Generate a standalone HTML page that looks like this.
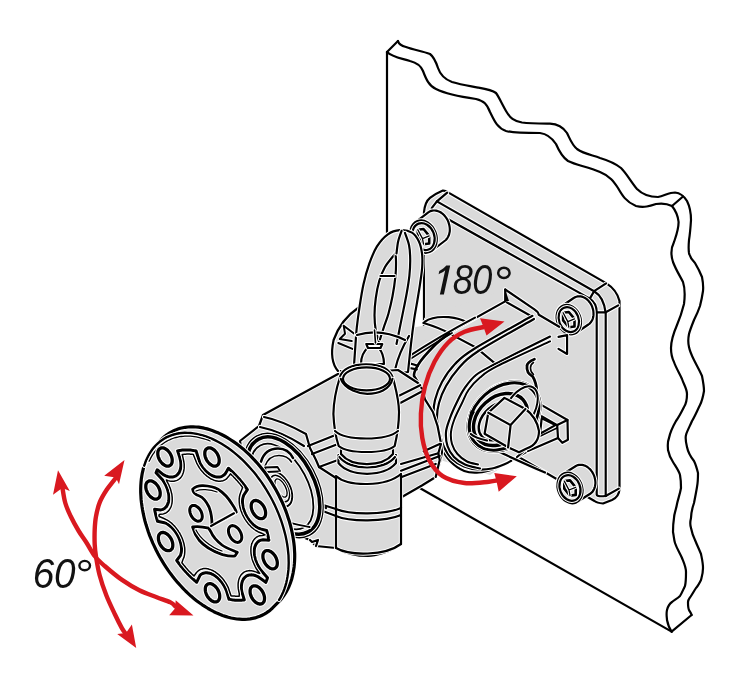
<!DOCTYPE html>
<html><head><meta charset="utf-8">
<style>
html,body{margin:0;padding:0;background:#fff;width:750px;height:697px;overflow:hidden}
svg{display:block}
.k{fill:none;stroke:#000;stroke-width:2.2;stroke-linejoin:round;stroke-linecap:round}
.g{fill:#dadada;stroke:#000;stroke-width:2.2;stroke-linejoin:round}
.h{fill:none;stroke:#fff;stroke-width:4.2;stroke-linejoin:round;stroke-linecap:round}
.gf{fill:#dadada;stroke:none}
.r{fill:none;stroke:#d91920;stroke-width:4.4;stroke-linecap:butt;stroke-linejoin:round}
.rf{fill:#d91920;stroke:none}
.t{font-family:"Liberation Sans",sans-serif;font-style:italic;fill:#111}
</style></head><body>
<svg width="750" height="697" viewBox="0 0 750 697">
<!-- WALL -->
<g class="k">
<path d="M387,52 L387,240"/>
<path d="M387,52 L398,41"/>
<path d="M387,52 C392,57 400,58 410,61 C418,63 421,66 423,71 C426,79 429,86 436,89 C446,94 462,97 476,99 C484,101 487,104 490,112 C494,120 497,128 506,131 C513,133 522,133 540,133 C548,134 552,138 556,144 C559,151 562,157 568,161 C576,165 588,167 600,172 C610,176 614,182 618,188 C622,195 626,202 636,206 C644,208 650,206 656,204 C662,203 668,204 672,206"/>
<path d="M398,41 C399,45 402,46 406,47 C414,50 422,51 430,54 C434,57 436,62 438,68 C440,74 444,79 452,82 C462,85 470,86 478,87.6 C486,89 492,90 496,93 C499,97 502,104 506,111 C510,118 514,121 522,122.5 C530,123.5 540,123.5 550,123.6 C558,124 563,127 567,133 C570,139 572,145 577,149 C584,154 592,155 600,158 C610,161 616,164 621,168 C627,174 631,182 637,189 C643,195 650,197 658,197 C664,196 669,192.5 675,192.5 C680,193 684,196 687,201 C690,207 691,213 691,220"/>
<path d="M672,206 L683,196.5"/>
<path d="M672,206 C676,211 678,216 678.6,222 C678.5,230 676,236 674,242 C671,248 671,256 673,262 C676,270 680,276 683,282 C685,288 685,296 684,304 C682,312 680,318 677,325 C674,332 671,340 671,348 C671,354 672,358 674,362 C676,368 680,374 682,379 C684,385 687,389 687,394 C687,400 686,404 684,407 C681,413 679,417 676,421 C672,428 670,433 669,438 C667,443 668,447 668,450 C669,455 671,459 673,462 C676,467 679,471 680,475 C681,480 681,484 681,488 C680,494 678,499 677,504 C676,510 674,514 674,518 C673,524 673,528 673,532 C674,537 674,540 675,543 C677,549 680,553 682,558 C684,563 686,567 686,572 C686,578 686,582 685,586 C683,590 682,593 680,596 C677,599 674,600 672,602 C669,604 668,606 667,610 C666,614 667,618 667,620 C668,625 669,628 671.6,631.6"/>
<path d="M691,220 C690.5,228 690,234 689,240 C688.5,246 688.5,250 689,253 C690,258 692,260 695,263 C698,268 700,272 702,277 C703,282 703.5,286 703,291 C702,298 701,302 700,306 C698,312 696,316 694,320 C692,325 690,330 689,334 C688,339 688,343 689,347 C690,352 692,356 694,360 C697,366 700,371 702,376 C703,381 704,386 704,391 C703,397 702,401 700,405 C697,411 695,416 692,421 C690,426 687,431 686,435 C685,439 686,443 687,447 C688,452 690,456 694,461 C696,465 697,469 698,473 C698,478 698,482 697,487 C696,493 695,498 694,503 C692,509 691,513 691,518 C690,522 690,525 691,528 C692,533 693,536 695,540 C697,545 699,549 701,554 C702,559 703,563 703,568 C703,573 702,576 701,580 C699,584 698,586 696,588 C694,591 693,593 691,596 C689,599 688,600 688,602 C688,606 688,608 689,610 C690,612 691,613 691.6,615"/>
<path d="M671.6,631.6 L691.6,615"/>
<path d="M418,487 L671.6,631.6"/>
</g>

<path class="gf" d="M430,197.9 Q435,194 442.9,190.6 Q445.5,190.5 447.2,191.9 L606.1,283.1 Q617,290 619.5,301.1 L619.5,489 Q619,497 612,500 L603,503.5 Q597,503 594.5,501 L490,440.3 L424,400 L424,212 Q425,202 430,197.9 Z"/>
<path style="stroke-width:4.20" class="h" d="M430,197.9 Q435,194 442.9,190.6 Q445.5,190.5 447.2,191.9 L606.1,283.1 Q617,290 619.5,301.1 L619.5,489 Q619,497 612,500 L603,503.5 Q597,503 594.5,501 L490,440.3 L424,400 L424,212 Q425,202 430,197.9 Z"/>
<path class="k" d="M430,197.9 Q435,194 442.9,190.6 Q445.5,190.5 447.2,191.9 L606.1,283.1 Q617,290 619.5,301.1 L619.5,489 Q619,497 612,500 L603,503.5 Q597,503 594.5,501 L490,440.3 L424,400 L424,212 Q425,202 430,197.9 Z"/>
<g class="h">
<path d="M436.9,201.4 L594.1,291.2 Q604,297 605.7,313.2 L605.7,496"/>
<path d="M431.7,210 L589.8,298.6 Q596.7,303 596.7,312.3 L596.7,494.5 Q597,497 605.5,496"/>
<path d="M447.2,192.7 L436.9,201.4 L431.7,208.2"/>
<path d="M589.8,298.6 L594.1,291.2 L606.1,283.4"/>
<path d="M596.7,312.3 L605.7,312.3 L618.2,305.4"/>
<path d="M605.7,496 L618.8,488.6"/>
</g>
<g class="k">
<path d="M436.9,201.4 L594.1,291.2 Q604,297 605.7,313.2 L605.7,496"/>
<path d="M431.7,210 L589.8,298.6 Q596.7,303 596.7,312.3 L596.7,494.5 Q597,497 605.5,496"/>
<path d="M447.2,192.7 L436.9,201.4 L431.7,208.2"/>
<path d="M589.8,298.6 L594.1,291.2 L606.1,283.4"/>
<path d="M596.7,312.3 L605.7,312.3 L618.2,305.4"/>
<path d="M605.7,496 L618.8,488.6"/>
</g>
<path class="g" style="stroke:none" d="M398,330 L470,318 L470,420 L440,450 L420,470 L400,480 Z"/>
<path class="gf" d="M410.2,233.5 L410.3,232.1 L410.4,230.7 L410.7,229.4 L411.1,228.2 L411.6,227.0 L412.1,225.9 L412.8,224.9 L413.5,223.9 L414.4,223.1 L415.3,222.4 L428.3,212.4 L429.2,211.8 L430.2,211.3 L431.3,210.9 L432.4,210.6 L433.5,210.5 L434.7,210.5 L435.8,210.6 L437.0,210.9 L438.2,211.2 L439.4,211.7 L440.5,212.3 L441.6,213.0 L442.7,213.9 L443.7,214.8 L444.6,215.8 L445.5,216.9 L446.4,218.1 L447.1,219.3 L447.8,220.6 L448.4,222.0 L448.8,223.4 L449.2,224.8 L449.5,226.2 L449.7,227.6 L449.8,229.0 L449.8,230.4 L449.7,231.8 L449.4,233.1 L449.1,234.4 L448.7,235.6 L448.1,236.8 L447.5,237.8 L446.8,238.8 L446.1,239.7 L445.2,240.5 L432.2,250.5 L431.3,251.1 L430.3,251.7 L429.3,252.1 L428.2,252.5 L427.1,252.7 L425.9,252.7 L424.7,252.7 L423.6,252.5 L422.4,252.2 L421.2,251.7 L420.1,251.2 L419.0,250.5 L417.9,249.8 L416.8,248.9 L415.8,247.9 L414.9,246.9 L414.0,245.7 L413.3,244.5 L412.5,243.2 L411.9,241.9 L411.4,240.5 L410.9,239.1 L410.6,237.7 L410.4,236.3 L410.2,234.9Z"/>
<path style="stroke-width:4.20" class="h" d="M410.2,233.5 L410.3,232.1 L410.4,230.7 L410.7,229.4 L411.1,228.2 L411.6,227.0 L412.1,225.9 L412.8,224.9 L413.5,223.9 L414.4,223.1 L415.3,222.4 L428.3,212.4 L429.2,211.8 L430.2,211.3 L431.3,210.9 L432.4,210.6 L433.5,210.5 L434.7,210.5 L435.8,210.6 L437.0,210.9 L438.2,211.2 L439.4,211.7 L440.5,212.3 L441.6,213.0 L442.7,213.9 L443.7,214.8 L444.6,215.8 L445.5,216.9 L446.4,218.1 L447.1,219.3 L447.8,220.6 L448.4,222.0 L448.8,223.4 L449.2,224.8 L449.5,226.2 L449.7,227.6 L449.8,229.0 L449.8,230.4 L449.7,231.8 L449.4,233.1 L449.1,234.4 L448.7,235.6 L448.1,236.8 L447.5,237.8 L446.8,238.8 L446.1,239.7 L445.2,240.5 L432.2,250.5 L431.3,251.1 L430.3,251.7 L429.3,252.1 L428.2,252.5 L427.1,252.7 L425.9,252.7 L424.7,252.7 L423.6,252.5 L422.4,252.2 L421.2,251.7 L420.1,251.2 L419.0,250.5 L417.9,249.8 L416.8,248.9 L415.8,247.9 L414.9,246.9 L414.0,245.7 L413.3,244.5 L412.5,243.2 L411.9,241.9 L411.4,240.5 L410.9,239.1 L410.6,237.7 L410.4,236.3 L410.2,234.9Z"/>
<path class="k" d="M410.2,233.5 L410.3,232.1 L410.4,230.7 L410.7,229.4 L411.1,228.2 L411.6,227.0 L412.1,225.9 L412.8,224.9 L413.5,223.9 L414.4,223.1 L415.3,222.4 L428.3,212.4 L429.2,211.8 L430.2,211.3 L431.3,210.9 L432.4,210.6 L433.5,210.5 L434.7,210.5 L435.8,210.6 L437.0,210.9 L438.2,211.2 L439.4,211.7 L440.5,212.3 L441.6,213.0 L442.7,213.9 L443.7,214.8 L444.6,215.8 L445.5,216.9 L446.4,218.1 L447.1,219.3 L447.8,220.6 L448.4,222.0 L448.8,223.4 L449.2,224.8 L449.5,226.2 L449.7,227.6 L449.8,229.0 L449.8,230.4 L449.7,231.8 L449.4,233.1 L449.1,234.4 L448.7,235.6 L448.1,236.8 L447.5,237.8 L446.8,238.8 L446.1,239.7 L445.2,240.5 L432.2,250.5 L431.3,251.1 L430.3,251.7 L429.3,252.1 L428.2,252.5 L427.1,252.7 L425.9,252.7 L424.7,252.7 L423.6,252.5 L422.4,252.2 L421.2,251.7 L420.1,251.2 L419.0,250.5 L417.9,249.8 L416.8,248.9 L415.8,247.9 L414.9,246.9 L414.0,245.7 L413.3,244.5 L412.5,243.2 L411.9,241.9 L411.4,240.5 L410.9,239.1 L410.6,237.7 L410.4,236.3 L410.2,234.9Z"/>
<ellipse class="gf" cx="423.5" cy="236.6" rx="12.7" ry="16.6" transform="rotate(-21.3 423.5 236.6)" />
<ellipse style="stroke-width:4.20" class="h" cx="423.5" cy="236.6" rx="12.7" ry="16.6" transform="rotate(-21.3 423.5 236.6)" />
<ellipse class="k" cx="423.5" cy="236.6" rx="12.7" ry="16.6" transform="rotate(-21.3 423.5 236.6)" />
<ellipse class="h" cx="423.5" cy="236.6" rx="10.7" ry="13.9" transform="rotate(-21.3 423.5 236.6)" style="stroke-width:4.20"/>
<ellipse class="k" cx="423.5" cy="236.6" rx="10.7" ry="13.9" transform="rotate(-21.3 423.5 236.6)" style="stroke-width:2.2"/>
<path class="h" style="stroke-width:4.60" d="M429.2,243.5 L423.5,244.2 L417.8,237.3 L417.8,229.7 L423.5,229.0 L429.2,235.9Z"/>
<path class="k" style="stroke-width:2.6" d="M429.2,243.5 L423.5,244.2 L417.8,237.3 L417.8,229.7 L423.5,229.0 L429.2,235.9Z"/>
<path class="h" style="stroke-width:3.30" d="M417.8,229.7 L422.5,238.6 L423.5,244.2 M422.5,238.6 L429.2,235.9"/>
<path class="k" style="stroke-width:1.3" d="M417.8,229.7 L422.5,238.6 L423.5,244.2 M422.5,238.6 L429.2,235.9"/>
<path class="gf" d="M556.6,316.7 L556.6,315.4 L556.8,314.2 L557.1,313.0 L557.4,311.9 L557.8,310.8 L558.4,309.8 L559.0,308.8 L559.7,308.0 L560.4,307.2 L561.2,306.5 L573.7,298.0 L574.6,297.5 L575.5,297.0 L576.5,296.7 L577.5,296.4 L578.6,296.3 L579.6,296.3 L580.7,296.4 L581.8,296.6 L582.9,297.0 L583.9,297.4 L585.0,298.0 L586.0,298.6 L587.0,299.4 L587.9,300.3 L588.8,301.2 L589.6,302.2 L590.4,303.3 L591.1,304.4 L591.7,305.6 L592.2,306.9 L592.6,308.1 L593.0,309.4 L593.3,310.7 L593.4,312.0 L593.5,313.3 L593.5,314.6 L593.4,315.9 L593.2,317.1 L592.9,318.3 L592.5,319.4 L592.0,320.4 L591.4,321.4 L590.8,322.3 L590.1,323.1 L589.3,323.8 L588.4,324.5 L575.9,333.0 L575.0,333.5 L574.1,333.9 L573.1,334.2 L572.1,334.4 L571.0,334.4 L569.9,334.4 L568.9,334.2 L567.8,333.9 L566.7,333.5 L565.7,333.0 L564.6,332.4 L563.6,331.7 L562.7,330.9 L561.8,330.0 L560.9,329.0 L560.1,328.0 L559.4,326.9 L558.7,325.7 L558.2,324.5 L557.7,323.2 L557.3,321.9 L557.0,320.6 L556.7,319.3 L556.6,318.0Z"/>
<path style="stroke-width:4.20" class="h" d="M556.6,316.7 L556.6,315.4 L556.8,314.2 L557.1,313.0 L557.4,311.9 L557.8,310.8 L558.4,309.8 L559.0,308.8 L559.7,308.0 L560.4,307.2 L561.2,306.5 L573.7,298.0 L574.6,297.5 L575.5,297.0 L576.5,296.7 L577.5,296.4 L578.6,296.3 L579.6,296.3 L580.7,296.4 L581.8,296.6 L582.9,297.0 L583.9,297.4 L585.0,298.0 L586.0,298.6 L587.0,299.4 L587.9,300.3 L588.8,301.2 L589.6,302.2 L590.4,303.3 L591.1,304.4 L591.7,305.6 L592.2,306.9 L592.6,308.1 L593.0,309.4 L593.3,310.7 L593.4,312.0 L593.5,313.3 L593.5,314.6 L593.4,315.9 L593.2,317.1 L592.9,318.3 L592.5,319.4 L592.0,320.4 L591.4,321.4 L590.8,322.3 L590.1,323.1 L589.3,323.8 L588.4,324.5 L575.9,333.0 L575.0,333.5 L574.1,333.9 L573.1,334.2 L572.1,334.4 L571.0,334.4 L569.9,334.4 L568.9,334.2 L567.8,333.9 L566.7,333.5 L565.7,333.0 L564.6,332.4 L563.6,331.7 L562.7,330.9 L561.8,330.0 L560.9,329.0 L560.1,328.0 L559.4,326.9 L558.7,325.7 L558.2,324.5 L557.7,323.2 L557.3,321.9 L557.0,320.6 L556.7,319.3 L556.6,318.0Z"/>
<path class="k" d="M556.6,316.7 L556.6,315.4 L556.8,314.2 L557.1,313.0 L557.4,311.9 L557.8,310.8 L558.4,309.8 L559.0,308.8 L559.7,308.0 L560.4,307.2 L561.2,306.5 L573.7,298.0 L574.6,297.5 L575.5,297.0 L576.5,296.7 L577.5,296.4 L578.6,296.3 L579.6,296.3 L580.7,296.4 L581.8,296.6 L582.9,297.0 L583.9,297.4 L585.0,298.0 L586.0,298.6 L587.0,299.4 L587.9,300.3 L588.8,301.2 L589.6,302.2 L590.4,303.3 L591.1,304.4 L591.7,305.6 L592.2,306.9 L592.6,308.1 L593.0,309.4 L593.3,310.7 L593.4,312.0 L593.5,313.3 L593.5,314.6 L593.4,315.9 L593.2,317.1 L592.9,318.3 L592.5,319.4 L592.0,320.4 L591.4,321.4 L590.8,322.3 L590.1,323.1 L589.3,323.8 L588.4,324.5 L575.9,333.0 L575.0,333.5 L574.1,333.9 L573.1,334.2 L572.1,334.4 L571.0,334.4 L569.9,334.4 L568.9,334.2 L567.8,333.9 L566.7,333.5 L565.7,333.0 L564.6,332.4 L563.6,331.7 L562.7,330.9 L561.8,330.0 L560.9,329.0 L560.1,328.0 L559.4,326.9 L558.7,325.7 L558.2,324.5 L557.7,323.2 L557.3,321.9 L557.0,320.6 L556.7,319.3 L556.6,318.0Z"/>
<ellipse class="gf" cx="568.8" cy="319.6" rx="11.7" ry="15.2" transform="rotate(-21.3 568.8 319.6)" />
<ellipse style="stroke-width:4.20" class="h" cx="568.8" cy="319.6" rx="11.7" ry="15.2" transform="rotate(-21.3 568.8 319.6)" />
<ellipse class="k" cx="568.8" cy="319.6" rx="11.7" ry="15.2" transform="rotate(-21.3 568.8 319.6)" />
<ellipse class="h" cx="568.8" cy="319.6" rx="9.8" ry="12.8" transform="rotate(-21.3 568.8 319.6)" style="stroke-width:4.20"/>
<ellipse class="k" cx="568.8" cy="319.6" rx="9.8" ry="12.8" transform="rotate(-21.3 568.8 319.6)" style="stroke-width:2.2"/>
<path class="h" style="stroke-width:4.60" d="M574.5,326.5 L568.8,327.2 L563.1,320.3 L563.1,312.7 L568.8,312.0 L574.5,318.9Z"/>
<path class="k" style="stroke-width:2.6" d="M574.5,326.5 L568.8,327.2 L563.1,320.3 L563.1,312.7 L568.8,312.0 L574.5,318.9Z"/>
<path class="h" style="stroke-width:3.30" d="M563.1,312.7 L567.8,321.6 L568.8,327.2 M567.8,321.6 L574.5,318.9"/>
<path class="k" style="stroke-width:1.3" d="M563.1,312.7 L567.8,321.6 L568.8,327.2 M567.8,321.6 L574.5,318.9"/>
<path class="gf" d="M557.4,485.0 L557.5,483.7 L557.7,482.4 L557.9,481.2 L558.3,480.0 L558.7,478.9 L559.3,477.9 L559.9,476.9 L560.6,476.0 L561.4,475.2 L562.2,474.5 L563.1,474.0 L575.9,466.0 L576.9,465.5 L577.9,465.1 L578.9,464.9 L580.0,464.8 L581.1,464.8 L582.2,464.9 L583.3,465.1 L584.4,465.5 L585.5,465.9 L586.6,466.5 L587.6,467.2 L588.6,468.0 L589.6,468.8 L590.5,469.8 L591.3,470.8 L592.1,471.9 L592.8,473.1 L593.5,474.4 L594.0,475.6 L594.5,476.9 L594.8,478.3 L595.1,479.6 L595.3,481.0 L595.4,482.3 L595.4,483.6 L595.2,484.9 L595.0,486.2 L594.7,487.4 L594.3,488.5 L593.8,489.6 L593.2,490.6 L592.6,491.6 L591.8,492.4 L591.0,493.1 L590.2,493.8 L577.4,501.8 L576.4,502.3 L575.4,502.7 L574.4,503.0 L573.4,503.2 L572.3,503.2 L571.2,503.2 L570.1,503.0 L569.0,502.7 L567.8,502.3 L566.8,501.8 L565.7,501.2 L564.7,500.4 L563.7,499.6 L562.7,498.7 L561.9,497.7 L561.1,496.6 L560.3,495.5 L559.6,494.3 L559.0,493.0 L558.5,491.7 L558.1,490.4 L557.8,489.1 L557.6,487.7 L557.5,486.4Z"/>
<path style="stroke-width:4.20" class="h" d="M557.4,485.0 L557.5,483.7 L557.7,482.4 L557.9,481.2 L558.3,480.0 L558.7,478.9 L559.3,477.9 L559.9,476.9 L560.6,476.0 L561.4,475.2 L562.2,474.5 L563.1,474.0 L575.9,466.0 L576.9,465.5 L577.9,465.1 L578.9,464.9 L580.0,464.8 L581.1,464.8 L582.2,464.9 L583.3,465.1 L584.4,465.5 L585.5,465.9 L586.6,466.5 L587.6,467.2 L588.6,468.0 L589.6,468.8 L590.5,469.8 L591.3,470.8 L592.1,471.9 L592.8,473.1 L593.5,474.4 L594.0,475.6 L594.5,476.9 L594.8,478.3 L595.1,479.6 L595.3,481.0 L595.4,482.3 L595.4,483.6 L595.2,484.9 L595.0,486.2 L594.7,487.4 L594.3,488.5 L593.8,489.6 L593.2,490.6 L592.6,491.6 L591.8,492.4 L591.0,493.1 L590.2,493.8 L577.4,501.8 L576.4,502.3 L575.4,502.7 L574.4,503.0 L573.4,503.2 L572.3,503.2 L571.2,503.2 L570.1,503.0 L569.0,502.7 L567.8,502.3 L566.8,501.8 L565.7,501.2 L564.7,500.4 L563.7,499.6 L562.7,498.7 L561.9,497.7 L561.1,496.6 L560.3,495.5 L559.6,494.3 L559.0,493.0 L558.5,491.7 L558.1,490.4 L557.8,489.1 L557.6,487.7 L557.5,486.4Z"/>
<path class="k" d="M557.4,485.0 L557.5,483.7 L557.7,482.4 L557.9,481.2 L558.3,480.0 L558.7,478.9 L559.3,477.9 L559.9,476.9 L560.6,476.0 L561.4,475.2 L562.2,474.5 L563.1,474.0 L575.9,466.0 L576.9,465.5 L577.9,465.1 L578.9,464.9 L580.0,464.8 L581.1,464.8 L582.2,464.9 L583.3,465.1 L584.4,465.5 L585.5,465.9 L586.6,466.5 L587.6,467.2 L588.6,468.0 L589.6,468.8 L590.5,469.8 L591.3,470.8 L592.1,471.9 L592.8,473.1 L593.5,474.4 L594.0,475.6 L594.5,476.9 L594.8,478.3 L595.1,479.6 L595.3,481.0 L595.4,482.3 L595.4,483.6 L595.2,484.9 L595.0,486.2 L594.7,487.4 L594.3,488.5 L593.8,489.6 L593.2,490.6 L592.6,491.6 L591.8,492.4 L591.0,493.1 L590.2,493.8 L577.4,501.8 L576.4,502.3 L575.4,502.7 L574.4,503.0 L573.4,503.2 L572.3,503.2 L571.2,503.2 L570.1,503.0 L569.0,502.7 L567.8,502.3 L566.8,501.8 L565.7,501.2 L564.7,500.4 L563.7,499.6 L562.7,498.7 L561.9,497.7 L561.1,496.6 L560.3,495.5 L559.6,494.3 L559.0,493.0 L558.5,491.7 L558.1,490.4 L557.8,489.1 L557.6,487.7 L557.5,486.4Z"/>
<ellipse class="gf" cx="570.0" cy="488.0" rx="12.0" ry="15.7" transform="rotate(-21.3 570.0 488.0)" />
<ellipse style="stroke-width:4.20" class="h" cx="570.0" cy="488.0" rx="12.0" ry="15.7" transform="rotate(-21.3 570.0 488.0)" />
<ellipse class="k" cx="570.0" cy="488.0" rx="12.0" ry="15.7" transform="rotate(-21.3 570.0 488.0)" />
<ellipse class="h" cx="570.0" cy="488.0" rx="10.1" ry="13.2" transform="rotate(-21.3 570.0 488.0)" style="stroke-width:4.20"/>
<ellipse class="k" cx="570.0" cy="488.0" rx="10.1" ry="13.2" transform="rotate(-21.3 570.0 488.0)" style="stroke-width:2.2"/>
<path class="h" style="stroke-width:4.60" d="M575.7,494.9 L570.0,495.6 L564.3,488.7 L564.3,481.1 L570.0,480.4 L575.7,487.3Z"/>
<path class="k" style="stroke-width:2.6" d="M575.7,494.9 L570.0,495.6 L564.3,488.7 L564.3,481.1 L570.0,480.4 L575.7,487.3Z"/>
<path class="h" style="stroke-width:3.30" d="M564.3,481.1 L569.0,490.0 L570.0,495.6 M569.0,490.0 L575.7,487.3"/>
<path class="k" style="stroke-width:1.3" d="M564.3,481.1 L569.0,490.0 L570.0,495.6 M569.0,490.0 L575.7,487.3"/>
<path class="g" d="M424,318 L506,289 L540,310 L568,337 L568,355 L545,440 L517,457 L490,475 L440,460 L430,420 Z" style="stroke:none"/>
<path class="g" d="M532.4,315.8 C522.7,321.3 486.9,341.0 474.0,349.0 C461.1,357.0 460.3,358.5 455.0,364.0 C449.7,369.5 445.3,376.0 442.0,382.0 C438.7,388.0 436.4,394.5 435.0,400.0 C433.6,405.5 433.4,409.7 433.6,415.0 C433.8,420.3 434.8,426.7 436.0,432.0 C437.2,437.3 438.7,442.2 441.0,447.0 C443.3,451.8 446.1,457.0 450.0,461.0 C453.9,465.0 459.5,469.1 464.3,471.0 C469.1,472.9 474.1,472.9 479.0,472.5 C483.9,472.1 489.3,470.4 493.7,468.9 C498.1,467.4 501.5,465.7 505.4,463.7 C509.3,461.7 510.5,460.8 517.1,457.1 C523.7,453.4 540.4,444.3 545.0,441.7 L560,430 L560,330 Z" style="stroke:none"/>
<g class="h">
<path d="M505.2,289.5 L505.2,300.7"/>
<path d="M505.2,289.5 L534.4,309.3 Q538.5,312 538.8,314.8 L559.2,326.8"/>
<path d="M506.9,302.4 L532.7,317"/>
<path d="M505.2,301.4 L450.8,331.8 L430,343.8"/>
<path d="M558.5,336.8 L567.1,335.1 L567.1,354 L558.5,348.9"/>
<path style="stroke-width:4.80" d="M534.4,359.2 C530,361 527,363 527,366 C526.5,370 528,374 532.7,376.4 C535,380 536.5,386 537,392 L537,400"/>
<path style="stroke-width:3.60" d="M533.5,362.5 C531,364 530.5,366 530.5,368 C530.5,371 531.5,373 533.5,374.5"/>
<path d="M424.6,321.8 C430,318 440,316.5 448.7,317.2 C455,317.8 462,319.5 467,322.4"/>
<path d="M423.4,323 C430,325 440,328 449.2,333.4 L476.4,347.8 L495.6,363.8"/>
</g>
<g class="k">
<path d="M505.2,289.5 L505.2,300.7"/>
<path d="M505.2,289.5 L534.4,309.3 Q538.5,312 538.8,314.8 L559.2,326.8"/>
<path d="M506.9,302.4 L532.7,317"/>
<path d="M505.2,301.4 L450.8,331.8 L430,343.8"/>
<path d="M558.5,336.8 L567.1,335.1 L567.1,354 L558.5,348.9"/>
<path style="stroke-width:2.8" d="M534.4,359.2 C530,361 527,363 527,366 C526.5,370 528,374 532.7,376.4 C535,380 536.5,386 537,392 L537,400"/>
<path style="stroke-width:1.6" d="M533.5,362.5 C531,364 530.5,366 530.5,368 C530.5,371 531.5,373 533.5,374.5"/>
<path d="M424.6,321.8 C430,318 440,316.5 448.7,317.2 C455,317.8 462,319.5 467,322.4"/>
<path d="M423.4,323 C430,325 440,328 449.2,333.4 L476.4,347.8 L495.6,363.8"/>
</g>
<path d="M505.2,289.5 L509,301 L505.2,301 Z" fill="#000"/>
<path style="stroke-width:4.20" class="h" d="M532.4,315.8 C522.7,321.3 486.9,341.0 474.0,349.0 C461.1,357.0 460.3,358.5 455.0,364.0 C449.7,369.5 445.3,376.0 442.0,382.0 C438.7,388.0 436.4,394.5 435.0,400.0 C433.6,405.5 433.4,409.7 433.6,415.0 C433.8,420.3 434.8,426.7 436.0,432.0 C437.2,437.3 438.7,442.2 441.0,447.0 C443.3,451.8 446.1,457.0 450.0,461.0 C453.9,465.0 459.5,469.1 464.3,471.0 C469.1,472.9 474.1,472.9 479.0,472.5 C483.9,472.1 489.3,470.4 493.7,468.9 C498.1,467.4 501.5,465.7 505.4,463.7 C509.3,461.7 510.5,460.8 517.1,457.1 C523.7,453.4 540.4,444.3 545.0,441.7"/>
<path class="k" d="M532.4,315.8 C522.7,321.3 486.9,341.0 474.0,349.0 C461.1,357.0 460.3,358.5 455.0,364.0 C449.7,369.5 445.3,376.0 442.0,382.0 C438.7,388.0 436.4,394.5 435.0,400.0 C433.6,405.5 433.4,409.7 433.6,415.0 C433.8,420.3 434.8,426.7 436.0,432.0 C437.2,437.3 438.7,442.2 441.0,447.0 C443.3,451.8 446.1,457.0 450.0,461.0 C453.9,465.0 459.5,469.1 464.3,471.0 C469.1,472.9 474.1,472.9 479.0,472.5 C483.9,472.1 489.3,470.4 493.7,468.9 C498.1,467.4 501.5,465.7 505.4,463.7 C509.3,461.7 510.5,460.8 517.1,457.1 C523.7,453.4 540.4,444.3 545.0,441.7"/>
<path style="stroke-width:4.20" class="h" d="M534.0,319.0 C524.5,324.5 489.7,343.7 477.0,352.0 C464.3,360.3 463.2,363.3 458.0,369.0 C452.8,374.7 449.2,380.3 446.0,386.0 C442.8,391.7 440.5,397.7 439.0,403.0 C437.5,408.3 436.9,413.0 437.0,418.0 C437.1,423.0 438.3,428.2 439.5,433.0 C440.7,437.8 441.9,442.7 444.0,447.0 C446.1,451.3 448.7,455.8 452.0,459.0 C455.3,462.2 459.7,464.8 464.0,466.5 C468.3,468.2 473.3,469.2 478.0,469.5 C482.7,469.8 487.5,469.4 492.0,468.5 C496.5,467.6 501.8,465.3 505.0,464.0 C508.2,462.7 510.2,461.3 511.2,460.8"/>
<path class="k" d="M534.0,319.0 C524.5,324.5 489.7,343.7 477.0,352.0 C464.3,360.3 463.2,363.3 458.0,369.0 C452.8,374.7 449.2,380.3 446.0,386.0 C442.8,391.7 440.5,397.7 439.0,403.0 C437.5,408.3 436.9,413.0 437.0,418.0 C437.1,423.0 438.3,428.2 439.5,433.0 C440.7,437.8 441.9,442.7 444.0,447.0 C446.1,451.3 448.7,455.8 452.0,459.0 C455.3,462.2 459.7,464.8 464.0,466.5 C468.3,468.2 473.3,469.2 478.0,469.5 C482.7,469.8 487.5,469.4 492.0,468.5 C496.5,467.6 501.8,465.3 505.0,464.0 C508.2,462.7 510.2,461.3 511.2,460.8"/>
<path style="stroke-width:4.20" class="h" d="M550.0,336.6 C540.9,341.1 507.9,357.4 495.6,363.8 C483.3,370.2 481.2,370.9 476.0,375.0 C470.8,379.1 467.7,383.9 464.5,388.4 C461.3,392.9 459.4,397.1 457.0,402.0 C454.6,406.9 451.8,413.0 450.0,418.0 C448.2,423.0 446.4,427.3 446.0,432.0 C445.6,436.7 446.2,441.8 447.5,446.0 C448.8,450.2 451.1,453.9 454.0,457.0 C456.9,460.1 460.7,462.6 465.0,464.5 C469.3,466.4 477.5,467.8 480.0,468.5"/>
<path class="k" d="M550.0,336.6 C540.9,341.1 507.9,357.4 495.6,363.8 C483.3,370.2 481.2,370.9 476.0,375.0 C470.8,379.1 467.7,383.9 464.5,388.4 C461.3,392.9 459.4,397.1 457.0,402.0 C454.6,406.9 451.8,413.0 450.0,418.0 C448.2,423.0 446.4,427.3 446.0,432.0 C445.6,436.7 446.2,441.8 447.5,446.0 C448.8,450.2 451.1,453.9 454.0,457.0 C456.9,460.1 460.7,462.6 465.0,464.5 C469.3,466.4 477.5,467.8 480.0,468.5"/>
<path class="h" style="stroke-width:4.00" d="M550.0,341.4 C541.2,345.5 508.9,360.2 497.2,366.2 C485.5,372.2 484.8,373.5 480.0,377.5 C475.2,381.5 471.5,385.8 468.5,390.0 C465.5,394.2 464.3,398.2 462.0,403.0 C459.7,407.8 456.3,414.2 454.5,419.0 C452.7,423.8 451.4,427.8 451.0,432.0 C450.6,436.2 450.9,440.3 452.0,444.0 C453.1,447.7 455.0,451.1 457.5,454.0 C460.0,456.9 463.6,459.8 467.0,461.5 C470.4,463.2 476.2,464.0 478.0,464.5"/>
<path class="k" style="stroke-width:2" d="M550.0,341.4 C541.2,345.5 508.9,360.2 497.2,366.2 C485.5,372.2 484.8,373.5 480.0,377.5 C475.2,381.5 471.5,385.8 468.5,390.0 C465.5,394.2 464.3,398.2 462.0,403.0 C459.7,407.8 456.3,414.2 454.5,419.0 C452.7,423.8 451.4,427.8 451.0,432.0 C450.6,436.2 450.9,440.3 452.0,444.0 C453.1,447.7 455.0,451.1 457.5,454.0 C460.0,456.9 463.6,459.8 467.0,461.5 C470.4,463.2 476.2,464.0 478.0,464.5"/>
<path style="stroke-width:4.20" class="h" d="M517,457 L545,433 M483.4,444.7 C500,452 520,462 545,472.5"/>
<path class="k" d="M517,457 L545,433 M483.4,444.7 C500,452 520,462 545,472.5"/>
<path class="g" d="M539,403.6 L567.5,420 L567.9,439.8 L562.3,442.8 L527.9,451 L520,440 Z" style="stroke:none"/>
<g class="h">
<path d="M539.1,403.6 L567.5,420 L567.9,439.8 L562.3,442.8 L558,438"/>
<path d="M557.2,425.1 L567.5,420"/>
<path d="M515,401 L557.2,425.1 L558,438"/>
<path d="M527.9,451 L558,438"/>
<path d="M541.7,418.2 L555.4,425.1 L540,433.7 Z"/>
<path d="M540,436.3 L557,428" style="stroke-width:3.60"/>
</g>
<g class="k">
<path d="M539.1,403.6 L567.5,420 L567.9,439.8 L562.3,442.8 L558,438"/>
<path d="M557.2,425.1 L567.5,420"/>
<path d="M515,401 L557.2,425.1 L558,438"/>
<path d="M527.9,451 L558,438"/>
<path d="M541.7,418.2 L555.4,425.1 L540,433.7 Z"/>
<path d="M540,436.3 L557,428" style="stroke-width:1.6"/>
</g>
<ellipse class="gf" cx="504.0" cy="416.5" rx="30.5" ry="41.0" transform="rotate(48.5 504.0 416.5)" style="stroke-width:1.6"/>
<ellipse class="h" cx="504.0" cy="416.5" rx="30.5" ry="41.0" transform="rotate(48.5 504.0 416.5)" style="stroke-width:3.60"/>
<ellipse class="k" cx="504.0" cy="416.5" rx="30.5" ry="41.0" transform="rotate(48.5 504.0 416.5)" style="stroke-width:1.6"/>
<ellipse class="h" cx="504.0" cy="416.5" rx="28.8" ry="38.9" transform="rotate(48.5 504.0 416.5)" style="stroke-width:5.00"/>
<ellipse class="k" cx="504.0" cy="416.5" rx="28.8" ry="38.9" transform="rotate(48.5 504.0 416.5)" style="stroke-width:3"/>
<path d="M470.8,410.3 C468,418 468,428 470.8,434 L474,431 C472.5,424 473,417 475.5,412 Z" fill="#000"/>
<ellipse class="h" cx="500.5" cy="419.5" rx="22.5" ry="30.0" transform="rotate(48.5 500.5 419.5)" style="stroke-width:5.40"/>
<ellipse class="k" cx="500.5" cy="419.5" rx="22.5" ry="30.0" transform="rotate(48.5 500.5 419.5)" style="stroke-width:3.4"/>
<ellipse class="h" cx="499.0" cy="421.0" rx="16.0" ry="23.0" transform="rotate(48.5 499.0 421.0)" style="stroke-width:4.40"/>
<ellipse class="k" cx="499.0" cy="421.0" rx="16.0" ry="23.0" transform="rotate(48.5 499.0 421.0)" style="stroke-width:2.4"/>
<path style="stroke-width:4.20" class="h" d="M470.8,434 C474,437 480,439 487,440.5"/>
<path class="k" d="M470.8,434 C474,437 480,439 487,440.5"/>
<ellipse class="h" cx="520.0" cy="410.0" rx="14.0" ry="26.0" transform="rotate(30.0 520.0 410.0)" style="stroke-width:4.00"/>
<ellipse class="k" cx="520.0" cy="410.0" rx="14.0" ry="26.0" transform="rotate(30.0 520.0 410.0)" style="stroke-width:2"/>
<path class="gf" d="M488.3,412.7 L504.4,397.9 L525.4,409 C531,413 537,420 539,431 C539,440 534,446 526.6,448.5 L519,452.2 L508.1,447.3 L484.6,433.7 Z"/>
<path style="stroke-width:4.20" class="h" d="M488.3,412.7 L504.4,397.9 L525.4,409 C531,413 537,420 539,431 C539,440 534,446 526.6,448.5 L519,452.2 L508.1,447.3 L484.6,433.7 Z"/>
<path class="k" d="M488.3,412.7 L504.4,397.9 L525.4,409 C531,413 537,420 539,431 C539,440 534,446 526.6,448.5 L519,452.2 L508.1,447.3 L484.6,433.7 Z"/>
<path style="stroke-width:4.20" class="h" d="M488.3,412.7 L510.6,425.1 L525.4,409 M510.6,425.1 L508.1,447.3"/>
<path class="k" d="M488.3,412.7 L510.6,425.1 L525.4,409 M510.6,425.1 L508.1,447.3"/>
<g class="h">
<path d="M406.5,357.8 C420,349 440,336 475,317.6"/>
<path d="M406.5,361.3 C420,353 435,343 452,333" style="stroke-width:3.80"/>
<path d="M406.5,362.4 L418,365.8"/>
<path d="M404.2,367 L416.8,369.3"/>
<path style="stroke-width:4.60" d="M449.2,333.4 C443,338 438,342 435,345 C429,351 422,358 418,365 C415,370 413.5,373 414,376 L421.8,388.4"/>
</g>
<g class="k">
<path d="M406.5,357.8 C420,349 440,336 475,317.6"/>
<path d="M406.5,361.3 C420,353 435,343 452,333" style="stroke-width:1.8"/>
<path d="M406.5,362.4 L418,365.8"/>
<path d="M404.2,367 L416.8,369.3"/>
<path style="stroke-width:2.6" d="M449.2,333.4 C443,338 438,342 435,345 C429,351 422,358 418,365 C415,370 413.5,373 414,376 L421.8,388.4"/>
</g>
<path class="gf" d="M358,308 C346,316 338,328 333.6,340 C331,352 332,364 338,371 L365,371 L365,306 Z"/>
<path style="stroke-width:4.20" class="h" d="M358,308 C346,316 338,328 333.6,340 C331,352 332,364 338,371 L365,371 L365,306 Z"/>
<path class="k" d="M358,308 C346,316 338,328 333.6,340 C331,352 332,364 338,371 L365,371 L365,306 Z"/>
<path style="stroke-width:4.20" class="h" d="M358,308 C346,316 338,328 333.6,340 C331,352 332,364 338,371"/>
<path class="k" d="M358,308 C346,316 338,328 333.6,340 C331,352 332,364 338,371"/>
<path class="h" style="stroke-width:4.00" d="M343.7,325.7 L354.3,333.7 M343.7,325.7 L345,333.7 L339.7,339 L351.7,341 M338.3,343 L354.3,349.7"/>
<path class="k" style="stroke-width:2" d="M343.7,325.7 L354.3,333.7 M343.7,325.7 L345,333.7 L339.7,339 L351.7,341 M338.3,343 L354.3,349.7"/>
<path class="gf" d="M353.0,380.0 C353.4,374.0 354.9,352.8 355.5,344.0 C356.1,335.2 356.1,333.5 356.8,327.3 C357.5,321.1 358.5,313.8 359.6,306.6 C360.7,299.4 361.9,291.4 363.5,284.2 C365.1,277.0 367.1,269.9 369.3,263.6 C371.6,257.3 373.9,251.3 377.0,246.4 C380.1,241.5 384.1,237.0 387.9,234.3 C391.7,231.6 395.9,230.5 399.9,230.2 C403.9,229.9 408.9,230.8 412.0,232.6 C415.1,234.4 417.1,237.8 418.8,241.2 C420.5,244.6 421.4,249.0 422.0,253.3 C422.6,257.6 422.5,261.9 422.2,267.0 C421.9,272.1 420.8,278.4 420.0,284.2 C419.2,289.9 418.2,295.5 417.2,301.5 C416.2,307.5 415.0,313.3 414.0,320.4 C413.0,327.5 412.0,335.4 411.0,344.0 C410.0,352.6 408.5,367.3 408.0,372.0 Z"/>
<path style="stroke-width:4.20" class="h" d="M353.0,380.0 C353.4,374.0 354.9,352.8 355.5,344.0 C356.1,335.2 356.1,333.5 356.8,327.3 C357.5,321.1 358.5,313.8 359.6,306.6 C360.7,299.4 361.9,291.4 363.5,284.2 C365.1,277.0 367.1,269.9 369.3,263.6 C371.6,257.3 373.9,251.3 377.0,246.4 C380.1,241.5 384.1,237.0 387.9,234.3 C391.7,231.6 395.9,230.5 399.9,230.2 C403.9,229.9 408.9,230.8 412.0,232.6 C415.1,234.4 417.1,237.8 418.8,241.2 C420.5,244.6 421.4,249.0 422.0,253.3 C422.6,257.6 422.5,261.9 422.2,267.0 C421.9,272.1 420.8,278.4 420.0,284.2 C419.2,289.9 418.2,295.5 417.2,301.5 C416.2,307.5 415.0,313.3 414.0,320.4 C413.0,327.5 412.0,335.4 411.0,344.0 C410.0,352.6 408.5,367.3 408.0,372.0 Z"/>
<path class="k" d="M353.0,380.0 C353.4,374.0 354.9,352.8 355.5,344.0 C356.1,335.2 356.1,333.5 356.8,327.3 C357.5,321.1 358.5,313.8 359.6,306.6 C360.7,299.4 361.9,291.4 363.5,284.2 C365.1,277.0 367.1,269.9 369.3,263.6 C371.6,257.3 373.9,251.3 377.0,246.4 C380.1,241.5 384.1,237.0 387.9,234.3 C391.7,231.6 395.9,230.5 399.9,230.2 C403.9,229.9 408.9,230.8 412.0,232.6 C415.1,234.4 417.1,237.8 418.8,241.2 C420.5,244.6 421.4,249.0 422.0,253.3 C422.6,257.6 422.5,261.9 422.2,267.0 C421.9,272.1 420.8,278.4 420.0,284.2 C419.2,289.9 418.2,295.5 417.2,301.5 C416.2,307.5 415.0,313.3 414.0,320.4 C413.0,327.5 412.0,335.4 411.0,344.0 C410.0,352.6 408.5,367.3 408.0,372.0 Z"/>
<path style="stroke-width:4.20" class="h" d="M395.6,253.3 C395.1,253.9 394.3,254.7 392.5,257.0 C390.7,259.3 387.2,263.0 385.0,267.0 C382.8,271.0 380.8,275.6 379.3,280.8 C377.8,286.0 376.6,292.3 375.8,298.0 C375.0,303.7 374.5,309.8 374.5,315.2 C374.5,320.6 375.1,326.4 375.8,330.7 C376.5,335.0 378.3,339.3 378.8,341.0"/>
<path class="k" d="M395.6,253.3 C395.1,253.9 394.3,254.7 392.5,257.0 C390.7,259.3 387.2,263.0 385.0,267.0 C382.8,271.0 380.8,275.6 379.3,280.8 C377.8,286.0 376.6,292.3 375.8,298.0 C375.0,303.7 374.5,309.8 374.5,315.2 C374.5,320.6 375.1,326.4 375.8,330.7 C376.5,335.0 378.3,339.3 378.8,341.0"/>
<path style="stroke-width:4.20" class="h" d="M395.6,253.3 C395.7,254.8 396.0,258.3 396.0,262.0 C396.0,265.7 396.1,269.9 395.5,275.6 C394.9,281.3 393.7,290.0 392.5,296.3 C391.3,302.6 389.9,308.3 388.5,313.5 C387.1,318.7 385.2,323.0 383.8,327.3 C382.4,331.6 380.6,337.3 380.0,339.3"/>
<path class="k" d="M395.6,253.3 C395.7,254.8 396.0,258.3 396.0,262.0 C396.0,265.7 396.1,269.9 395.5,275.6 C394.9,281.3 393.7,290.0 392.5,296.3 C391.3,302.6 389.9,308.3 388.5,313.5 C387.1,318.7 385.2,323.0 383.8,327.3 C382.4,331.6 380.6,337.3 380.0,339.3"/>
<path style="stroke-width:4.20" class="h" d="M380.5,276 L394.5,276"/>
<path class="k" d="M380.5,276 L394.5,276"/>
<path style="stroke-width:4.20" class="h" d="M401.6,230.9 C401.0,232.6 399.1,237.5 398.2,241.2 C397.3,244.9 396.8,251.3 396.5,253.3"/>
<path class="k" d="M401.6,230.9 C401.0,232.6 399.1,237.5 398.2,241.2 C397.3,244.9 396.8,251.3 396.5,253.3"/>
<path style="stroke-width:4.20" class="h" d="M405.0,233.0 C405.7,235.0 408.1,240.8 409.0,245.0 C409.9,249.2 410.1,253.3 410.2,258.4 C410.3,263.5 410.0,269.9 409.4,275.6 C408.8,281.3 407.8,287.1 406.8,292.8 C405.8,298.6 404.5,304.4 403.4,310.1 C402.2,315.9 401.0,321.7 399.9,327.3 C398.8,332.9 397.1,341.2 396.5,344.0"/>
<path class="k" d="M405.0,233.0 C405.7,235.0 408.1,240.8 409.0,245.0 C409.9,249.2 410.1,253.3 410.2,258.4 C410.3,263.5 410.0,269.9 409.4,275.6 C408.8,281.3 407.8,287.1 406.8,292.8 C405.8,298.6 404.5,304.4 403.4,310.1 C402.2,315.9 401.0,321.7 399.9,327.3 C398.8,332.9 397.1,341.2 396.5,344.0"/>
<path style="stroke-width:4.20" class="h" d="M409,336 C403,346 398,357 395.5,368"/>
<path class="k" d="M409,336 C403,346 398,357 395.5,368"/>
<path class="gf" d="M259,426 L263,415 L338,374 L398,370 L418,383 L421.8,388.4 L425,399.4 L432.9,412 L437.6,426.2 L440.7,442 L442,452 L440,462 L435.7,477 L422.3,485.3 L401,497.5 L401,544 C390,552 375,556 368,556 C355,556 345,553 336,548 L316,546 L310,540 L290,532 L250,505 L240,441 Z"/>
<path style="stroke-width:4.20" class="h" d="M259,426 L263,415 L338,374 L398,370 L418,383 L421.8,388.4 L425,399.4 L432.9,412 L437.6,426.2 L440.7,442 L442,452 L440,462 L435.7,477 L422.3,485.3 L401,497.5 L401,544 C390,552 375,556 368,556 C355,556 345,553 336,548 L316,546 L310,540 L290,532 L250,505 L240,441 Z"/>
<path class="k" d="M259,426 L263,415 L338,374 L398,370 L418,383 L421.8,388.4 L425,399.4 L432.9,412 L437.6,426.2 L440.7,442 L442,452 L440,462 L435.7,477 L422.3,485.3 L401,497.5 L401,544 C390,552 375,556 368,556 C355,556 345,553 336,548 L316,546 L310,540 L290,532 L250,505 L240,441 Z"/>
<g class="h">
<path d="M264,417 C280,420 295,428 306,434 L310,448 L316,460 L319,467 L336,478"/>
<path d="M260,427 C275,430 290,437 304,446"/>
<path d="M308,446 L338,434"/>
<path d="M312,454 L338,444"/>
<path d="M319,467 L338,460"/>
<path d="M398,396.3 L420.2,385.2"/>
<path d="M398,404.2 L421.8,391.5"/>
<path d="M401,464 L438.3,453.3 L441,444"/>
<path d="M401,470.7 L439.7,456"/>
<path d="M401,477.3 L435.7,464"/>
<path d="M438.3,453.3 L439.7,460 L435.7,477"/>
<path d="M423.7,451.3 L439.7,444"/>
<path d="M336,478 L336,548"/>
<path d="M401,474 L401,544"/>
<path d="M336,476 C348,487 386,487 401,474"/>
<path d="M320,504 L336,509 C350,515 385,515 401,508"/>
<path d="M320,510 L336,516 C350,522 385,522 401,515"/>
<path d="M336,548 C350,556 385,556 401,544"/>
<path d="M318,502 L326,508"/>
<path d="M310,540 L312,542 L318,540 L316,546"/>
</g>
<g class="k">
<path d="M264,417 C280,420 295,428 306,434 L310,448 L316,460 L319,467 L336,478"/>
<path d="M260,427 C275,430 290,437 304,446"/>
<path d="M308,446 L338,434"/>
<path d="M312,454 L338,444"/>
<path d="M319,467 L338,460"/>
<path d="M398,396.3 L420.2,385.2"/>
<path d="M398,404.2 L421.8,391.5"/>
<path d="M401,464 L438.3,453.3 L441,444"/>
<path d="M401,470.7 L439.7,456"/>
<path d="M401,477.3 L435.7,464"/>
<path d="M438.3,453.3 L439.7,460 L435.7,477"/>
<path d="M423.7,451.3 L439.7,444"/>
<path d="M336,478 L336,548"/>
<path d="M401,474 L401,544"/>
<path d="M336,476 C348,487 386,487 401,474"/>
<path d="M320,504 L336,509 C350,515 385,515 401,508"/>
<path d="M320,510 L336,516 C350,522 385,522 401,515"/>
<path d="M336,548 C350,556 385,556 401,544"/>
<path d="M318,502 L326,508"/>
<path d="M310,540 L312,542 L318,540 L316,546"/>
</g>
<ellipse class="gf" cx="283.3" cy="485.5" rx="33.5" ry="56.0" transform="rotate(-28.0 283.3 485.5)" style="stroke-width:1.8"/>
<ellipse class="h" cx="283.3" cy="485.5" rx="33.5" ry="56.0" transform="rotate(-28.0 283.3 485.5)" style="stroke-width:3.80"/>
<ellipse class="k" cx="283.3" cy="485.5" rx="33.5" ry="56.0" transform="rotate(-28.0 283.3 485.5)" style="stroke-width:1.8"/>
<ellipse class="h" cx="283.3" cy="485.5" rx="30.4" ry="52.6" transform="rotate(-28.0 283.3 485.5)" style="stroke-width:5.60"/>
<ellipse class="k" cx="283.3" cy="485.5" rx="30.4" ry="52.6" transform="rotate(-28.0 283.3 485.5)" style="stroke-width:3.6"/>
<ellipse class="h" cx="282.0" cy="486.5" rx="25.5" ry="46.5" transform="rotate(-28.0 282.0 486.5)" style="stroke-width:3.80"/>
<ellipse class="k" cx="282.0" cy="486.5" rx="25.5" ry="46.5" transform="rotate(-28.0 282.0 486.5)" style="stroke-width:1.8"/>
<path class="h" style="stroke-width:4.60" d="M261,461.6 C264,452 270,448.5 278,448.5 C285,448.5 290,452 293,458"/>
<path class="k" style="stroke-width:2.6" d="M261,461.6 C264,452 270,448.5 278,448.5 C285,448.5 290,452 293,458"/>
<path class="h" style="stroke-width:3.60" d="M265,466 C268,458 273,455.5 279,455.5 C285,455.5 289,458 291.5,462"/>
<path class="k" style="stroke-width:1.6" d="M265,466 C268,458 273,455.5 279,455.5 C285,455.5 289,458 291.5,462"/>
<ellipse class="gf" cx="279.0" cy="489.0" rx="11.0" ry="19.0" transform="rotate(-28.0 279.0 489.0)" style="stroke-width:2"/>
<ellipse class="h" cx="279.0" cy="489.0" rx="11.0" ry="19.0" transform="rotate(-28.0 279.0 489.0)" style="stroke-width:4.00"/>
<ellipse class="k" cx="279.0" cy="489.0" rx="11.0" ry="19.0" transform="rotate(-28.0 279.0 489.0)" style="stroke-width:2"/>
<ellipse class="h" cx="280.0" cy="488.5" rx="7.5" ry="14.5" transform="rotate(-28.0 280.0 488.5)" style="stroke-width:3.60"/>
<ellipse class="k" cx="280.0" cy="488.5" rx="7.5" ry="14.5" transform="rotate(-28.0 280.0 488.5)" style="stroke-width:1.6"/>
<ellipse class="h" cx="281.0" cy="488.0" rx="4.5" ry="10.0" transform="rotate(-28.0 281.0 488.0)" style="stroke-width:3.40"/>
<ellipse class="k" cx="281.0" cy="488.0" rx="4.5" ry="10.0" transform="rotate(-28.0 281.0 488.0)" style="stroke-width:1.4"/>
<path class="h" style="stroke-width:3.80" d="M265,467.5 L277.5,467 L280,471 M266.5,472 L278,471.5 M265,467.5 L266.5,476.5"/>
<path class="k" style="stroke-width:1.8" d="M265,467.5 L277.5,467 L280,471 M266.5,472 L278,471.5 M265,467.5 L266.5,476.5"/>
<path class="h" style="stroke-width:3.80" d="M268.6,502.7 C275,514 283,521 291,523.2 C298,525 305,526 309.6,527"/>
<path class="k" style="stroke-width:1.8" d="M268.6,502.7 C275,514 283,521 291,523.2 C298,525 305,526 309.6,527"/>
<path style="stroke-width:4.20" class="h" d="M357,335 Q380,328 405,340"/>
<path class="k" d="M357,335 Q380,328 405,340"/>
<path class="gf" d="M368,347.5 C364,351 361,356 361,364 L384,364 C384,356 381.5,351 378.5,347.5 Z"/>
<path style="stroke-width:4.20" class="h" d="M368,347.5 C364,351 361,356 361,364 L384,364 C384,356 381.5,351 378.5,347.5 Z"/>
<path class="k" d="M368,347.5 C364,351 361,356 361,364 L384,364 C384,356 381.5,351 378.5,347.5 Z"/>
<path class="gf" d="M366.3,344 L382.3,344 L380.5,348 L368,348 Z"/>
<path style="stroke-width:4.20" class="h" d="M366.3,344 L382.3,344 L380.5,348 L368,348 Z"/>
<path class="k" d="M366.3,344 L382.3,344 L380.5,348 L368,348 Z"/>
<path class="h" style="stroke-width:3.60" d="M374.5,330 L375.5,343"/>
<path class="k" style="stroke-width:1.6" d="M374.5,330 L375.5,343"/>
<path class="gf" d="M338.5,455 L338.5,463 C350,477.5 384,477.5 396,463 L396,455 Z"/>
<path style="stroke-width:4.20" class="h" d="M338.5,455 L338.5,463 C350,477.5 384,477.5 396,463 L396,455 Z"/>
<path class="k" d="M338.5,455 L338.5,463 C350,477.5 384,477.5 396,463 L396,455 Z"/>
<path style="stroke-width:4.20" class="h" d="M339.5,457 C350,471 384,471 395,457"/>
<path class="k" d="M339.5,457 C350,471 384,471 395,457"/>
<path class="gf" d="M341,446 L341,454 C352,467.5 382,467.5 393,454 L393,446 Z"/>
<path style="stroke-width:4.20" class="h" d="M341,446 L341,454 C352,467.5 382,467.5 393,454 L393,446 Z"/>
<path class="k" d="M341,446 L341,454 C352,467.5 382,467.5 393,454 L393,446 Z"/>
<path class="gf" d="M338.7,446 C336,438 334,428 333.4,414 C333.6,400 336.5,388 340,377 C342,369 352,364.3 366,364.3 C380,364.3 390,368 393.2,378.8 C396,390 399,400 399,412 C399,426 397,436 394.7,446 C385,454 348,454 338.7,446 Z"/>
<path style="stroke-width:4.20" class="h" d="M338.7,446 C336,438 334,428 333.4,414 C333.6,400 336.5,388 340,377 C342,369 352,364.3 366,364.3 C380,364.3 390,368 393.2,378.8 C396,390 399,400 399,412 C399,426 397,436 394.7,446 C385,454 348,454 338.7,446 Z"/>
<path class="k" d="M338.7,446 C336,438 334,428 333.4,414 C333.6,400 336.5,388 340,377 C342,369 352,364.3 366,364.3 C380,364.3 390,368 393.2,378.8 C396,390 399,400 399,412 C399,426 397,436 394.7,446 C385,454 348,454 338.7,446 Z"/>
<g class="h">
<ellipse cx="366.5" cy="378.8" rx="23.5" ry="11.5"/>
<path d="M340.8,378.8 C345,390 360,393.8 367.3,393.8 C378,393.8 390,390 392.5,378.8"/>
<path d="M335,431 C346,441 386,441 398,431"/>
</g>
<g class="k">
<ellipse cx="366.5" cy="378.8" rx="23.5" ry="11.5"/>
<path d="M340.8,378.8 C345,390 360,393.8 367.3,393.8 C378,393.8 390,390 392.5,378.8"/>
<path d="M335,431 C346,441 386,441 398,431"/>
</g>
<path class="gf" style="stroke-width:3.2" d="M140.7,489.1 L140.8,485.7 L141.0,482.5 L141.3,479.3 L141.8,476.1 L142.3,473.1 L143.0,470.1 L143.7,467.2 L144.6,464.4 L145.6,461.7 L146.7,459.1 L147.9,456.6 L149.2,454.2 L150.6,452.0 L152.1,449.8 L153.7,447.7 L155.3,445.8 L157.1,444.0 L163.1,438.0 L165.0,436.3 L166.9,434.8 L169.0,433.4 L171.1,432.1 L173.3,431.0 L175.6,429.9 L177.9,429.1 L180.3,428.3 L182.8,427.8 L185.3,427.3 L187.9,427.0 L190.5,426.9 L193.2,426.8 L195.9,427.0 L198.6,427.2 L201.4,427.7 L204.2,428.2 L207.1,428.9 L210.0,429.8 L212.8,430.7 L215.7,431.9 L218.6,433.1 L221.5,434.5 L224.4,436.0 L227.3,437.7 L230.2,439.5 L233.1,441.4 L236.0,443.4 L238.8,445.5 L241.6,447.8 L244.4,450.1 L247.1,452.6 L249.8,455.2 L252.4,457.9 L255.0,460.7 L257.6,463.5 L260.1,466.5 L262.5,469.5 L264.9,472.6 L267.2,475.8 L269.4,479.1 L271.5,482.4 L273.6,485.8 L275.6,489.2 L277.5,492.7 L279.3,496.2 L281.0,499.8 L282.7,503.3 L284.2,507.0 L285.7,510.6 L287.0,514.2 L288.2,517.9 L289.4,521.6 L290.4,525.2 L291.3,528.9 L292.1,532.5 L292.8,536.1 L293.4,539.7 L293.9,543.3 L294.3,546.8 L294.5,550.3 L294.7,553.8 L294.7,557.1 L294.6,560.5 L294.4,563.7 L294.1,566.9 L293.6,570.1 L293.1,573.1 L292.4,576.1 L291.7,579.0 L290.8,581.8 L289.8,584.5 L288.7,587.1 L287.5,589.6 L286.2,592.0 L284.8,594.2 L283.3,596.4 L281.7,598.5 L280.1,600.4 L278.3,602.2 L272.3,608.2 L270.4,609.9 L268.5,611.4 L266.4,612.8 L264.3,614.1 L262.1,615.2 L259.8,616.3 L257.5,617.1 L255.1,617.9 L252.6,618.4 L250.1,618.9 L247.5,619.2 L244.9,619.3 L242.2,619.4 L239.5,619.2 L236.8,619.0 L234.0,618.5 L231.2,618.0 L228.3,617.3 L225.4,616.4 L222.6,615.5 L219.7,614.3 L216.8,613.1 L213.9,611.7 L211.0,610.2 L208.1,608.5 L205.2,606.7 L202.3,604.8 L199.4,602.8 L196.6,600.7 L193.8,598.4 L191.0,596.1 L188.3,593.6 L185.6,591.0 L183.0,588.3 L180.4,585.5 L177.8,582.7 L175.3,579.7 L172.9,576.7 L170.5,573.6 L168.2,570.4 L166.0,567.1 L163.9,563.8 L161.8,560.4 L159.8,557.0 L157.9,553.5 L156.1,550.0 L154.4,546.4 L152.7,542.9 L151.2,539.2 L149.7,535.6 L148.4,532.0 L147.2,528.3 L146.0,524.6 L145.0,521.0 L144.1,517.3 L143.3,513.7 L142.6,510.1 L142.0,506.5 L141.5,502.9 L141.1,499.4 L140.9,495.9 L140.7,492.4Z"/>
<path class="h" style="stroke-width:5.20" d="M140.7,489.1 L140.8,485.7 L141.0,482.5 L141.3,479.3 L141.8,476.1 L142.3,473.1 L143.0,470.1 L143.7,467.2 L144.6,464.4 L145.6,461.7 L146.7,459.1 L147.9,456.6 L149.2,454.2 L150.6,452.0 L152.1,449.8 L153.7,447.7 L155.3,445.8 L157.1,444.0 L163.1,438.0 L165.0,436.3 L166.9,434.8 L169.0,433.4 L171.1,432.1 L173.3,431.0 L175.6,429.9 L177.9,429.1 L180.3,428.3 L182.8,427.8 L185.3,427.3 L187.9,427.0 L190.5,426.9 L193.2,426.8 L195.9,427.0 L198.6,427.2 L201.4,427.7 L204.2,428.2 L207.1,428.9 L210.0,429.8 L212.8,430.7 L215.7,431.9 L218.6,433.1 L221.5,434.5 L224.4,436.0 L227.3,437.7 L230.2,439.5 L233.1,441.4 L236.0,443.4 L238.8,445.5 L241.6,447.8 L244.4,450.1 L247.1,452.6 L249.8,455.2 L252.4,457.9 L255.0,460.7 L257.6,463.5 L260.1,466.5 L262.5,469.5 L264.9,472.6 L267.2,475.8 L269.4,479.1 L271.5,482.4 L273.6,485.8 L275.6,489.2 L277.5,492.7 L279.3,496.2 L281.0,499.8 L282.7,503.3 L284.2,507.0 L285.7,510.6 L287.0,514.2 L288.2,517.9 L289.4,521.6 L290.4,525.2 L291.3,528.9 L292.1,532.5 L292.8,536.1 L293.4,539.7 L293.9,543.3 L294.3,546.8 L294.5,550.3 L294.7,553.8 L294.7,557.1 L294.6,560.5 L294.4,563.7 L294.1,566.9 L293.6,570.1 L293.1,573.1 L292.4,576.1 L291.7,579.0 L290.8,581.8 L289.8,584.5 L288.7,587.1 L287.5,589.6 L286.2,592.0 L284.8,594.2 L283.3,596.4 L281.7,598.5 L280.1,600.4 L278.3,602.2 L272.3,608.2 L270.4,609.9 L268.5,611.4 L266.4,612.8 L264.3,614.1 L262.1,615.2 L259.8,616.3 L257.5,617.1 L255.1,617.9 L252.6,618.4 L250.1,618.9 L247.5,619.2 L244.9,619.3 L242.2,619.4 L239.5,619.2 L236.8,619.0 L234.0,618.5 L231.2,618.0 L228.3,617.3 L225.4,616.4 L222.6,615.5 L219.7,614.3 L216.8,613.1 L213.9,611.7 L211.0,610.2 L208.1,608.5 L205.2,606.7 L202.3,604.8 L199.4,602.8 L196.6,600.7 L193.8,598.4 L191.0,596.1 L188.3,593.6 L185.6,591.0 L183.0,588.3 L180.4,585.5 L177.8,582.7 L175.3,579.7 L172.9,576.7 L170.5,573.6 L168.2,570.4 L166.0,567.1 L163.9,563.8 L161.8,560.4 L159.8,557.0 L157.9,553.5 L156.1,550.0 L154.4,546.4 L152.7,542.9 L151.2,539.2 L149.7,535.6 L148.4,532.0 L147.2,528.3 L146.0,524.6 L145.0,521.0 L144.1,517.3 L143.3,513.7 L142.6,510.1 L142.0,506.5 L141.5,502.9 L141.1,499.4 L140.9,495.9 L140.7,492.4Z"/>
<path class="k" style="stroke-width:3.2" d="M140.7,489.1 L140.8,485.7 L141.0,482.5 L141.3,479.3 L141.8,476.1 L142.3,473.1 L143.0,470.1 L143.7,467.2 L144.6,464.4 L145.6,461.7 L146.7,459.1 L147.9,456.6 L149.2,454.2 L150.6,452.0 L152.1,449.8 L153.7,447.7 L155.3,445.8 L157.1,444.0 L163.1,438.0 L165.0,436.3 L166.9,434.8 L169.0,433.4 L171.1,432.1 L173.3,431.0 L175.6,429.9 L177.9,429.1 L180.3,428.3 L182.8,427.8 L185.3,427.3 L187.9,427.0 L190.5,426.9 L193.2,426.8 L195.9,427.0 L198.6,427.2 L201.4,427.7 L204.2,428.2 L207.1,428.9 L210.0,429.8 L212.8,430.7 L215.7,431.9 L218.6,433.1 L221.5,434.5 L224.4,436.0 L227.3,437.7 L230.2,439.5 L233.1,441.4 L236.0,443.4 L238.8,445.5 L241.6,447.8 L244.4,450.1 L247.1,452.6 L249.8,455.2 L252.4,457.9 L255.0,460.7 L257.6,463.5 L260.1,466.5 L262.5,469.5 L264.9,472.6 L267.2,475.8 L269.4,479.1 L271.5,482.4 L273.6,485.8 L275.6,489.2 L277.5,492.7 L279.3,496.2 L281.0,499.8 L282.7,503.3 L284.2,507.0 L285.7,510.6 L287.0,514.2 L288.2,517.9 L289.4,521.6 L290.4,525.2 L291.3,528.9 L292.1,532.5 L292.8,536.1 L293.4,539.7 L293.9,543.3 L294.3,546.8 L294.5,550.3 L294.7,553.8 L294.7,557.1 L294.6,560.5 L294.4,563.7 L294.1,566.9 L293.6,570.1 L293.1,573.1 L292.4,576.1 L291.7,579.0 L290.8,581.8 L289.8,584.5 L288.7,587.1 L287.5,589.6 L286.2,592.0 L284.8,594.2 L283.3,596.4 L281.7,598.5 L280.1,600.4 L278.3,602.2 L272.3,608.2 L270.4,609.9 L268.5,611.4 L266.4,612.8 L264.3,614.1 L262.1,615.2 L259.8,616.3 L257.5,617.1 L255.1,617.9 L252.6,618.4 L250.1,618.9 L247.5,619.2 L244.9,619.3 L242.2,619.4 L239.5,619.2 L236.8,619.0 L234.0,618.5 L231.2,618.0 L228.3,617.3 L225.4,616.4 L222.6,615.5 L219.7,614.3 L216.8,613.1 L213.9,611.7 L211.0,610.2 L208.1,608.5 L205.2,606.7 L202.3,604.8 L199.4,602.8 L196.6,600.7 L193.8,598.4 L191.0,596.1 L188.3,593.6 L185.6,591.0 L183.0,588.3 L180.4,585.5 L177.8,582.7 L175.3,579.7 L172.9,576.7 L170.5,573.6 L168.2,570.4 L166.0,567.1 L163.9,563.8 L161.8,560.4 L159.8,557.0 L157.9,553.5 L156.1,550.0 L154.4,546.4 L152.7,542.9 L151.2,539.2 L149.7,535.6 L148.4,532.0 L147.2,528.3 L146.0,524.6 L145.0,521.0 L144.1,517.3 L143.3,513.7 L142.6,510.1 L142.0,506.5 L141.5,502.9 L141.1,499.4 L140.9,495.9 L140.7,492.4Z"/>
<path class="h" style="stroke-width:4.40" d="M144.2,465.7 L145.2,462.8 L146.3,459.9 L147.6,457.2 L149.0,454.6 L150.5,452.1 L152.1,449.8 L153.8,447.6 L155.6,445.5 L157.6,443.6 L159.6,441.8 L161.8,440.2 L164.0,438.7 L166.3,437.4 L168.7,436.3 L171.2,435.3 L173.8,434.5 L176.5,433.8 L179.2,433.3 L182.0,433.0 L184.8,432.8 L187.7,432.9 L190.7,433.0 L193.6,433.4 L196.7,433.9 L199.7,434.6 L202.8,435.4 L205.9,436.4 L209.0,437.6 L212.2,438.9 L215.3,440.4 L218.4,442.0 L221.6,443.8 L224.7,445.7 L227.8,447.8 L230.9,450.0 L233.9,452.4 L236.9,454.9 L239.9,457.5 L242.8,460.2 L245.7,463.1 L248.5,466.1 L251.3,469.2 L254.0,472.3 L256.6,475.6 L259.1,479.0 L261.6,482.4 L264.0,486.0 L266.3,489.6 L268.5,493.3 L270.6,497.0 L272.6,500.8 L274.5,504.6 L276.3,508.5 L278.0,512.4 L279.5,516.3 L281.0,520.2 L282.3,524.2 L283.5,528.1 L284.6,532.1 L285.6,536.0 L286.4,539.9 L287.1,543.8 L287.7,547.7 L288.1,551.5 L288.5,555.3 L288.6,559.0 L288.7,562.7 L288.6,566.3 L288.4,569.9 L288.0,573.3 L287.5,576.7 L286.9,579.9 L286.2,583.1 L285.3,586.2 L284.3,589.2 L283.2,592.0 L281.9,594.8 L280.6,597.4 L279.1,599.9"/>
<path class="k" style="stroke-width:2.4" d="M144.2,465.7 L145.2,462.8 L146.3,459.9 L147.6,457.2 L149.0,454.6 L150.5,452.1 L152.1,449.8 L153.8,447.6 L155.6,445.5 L157.6,443.6 L159.6,441.8 L161.8,440.2 L164.0,438.7 L166.3,437.4 L168.7,436.3 L171.2,435.3 L173.8,434.5 L176.5,433.8 L179.2,433.3 L182.0,433.0 L184.8,432.8 L187.7,432.9 L190.7,433.0 L193.6,433.4 L196.7,433.9 L199.7,434.6 L202.8,435.4 L205.9,436.4 L209.0,437.6 L212.2,438.9 L215.3,440.4 L218.4,442.0 L221.6,443.8 L224.7,445.7 L227.8,447.8 L230.9,450.0 L233.9,452.4 L236.9,454.9 L239.9,457.5 L242.8,460.2 L245.7,463.1 L248.5,466.1 L251.3,469.2 L254.0,472.3 L256.6,475.6 L259.1,479.0 L261.6,482.4 L264.0,486.0 L266.3,489.6 L268.5,493.3 L270.6,497.0 L272.6,500.8 L274.5,504.6 L276.3,508.5 L278.0,512.4 L279.5,516.3 L281.0,520.2 L282.3,524.2 L283.5,528.1 L284.6,532.1 L285.6,536.0 L286.4,539.9 L287.1,543.8 L287.7,547.7 L288.1,551.5 L288.5,555.3 L288.6,559.0 L288.7,562.7 L288.6,566.3 L288.4,569.9 L288.0,573.3 L287.5,576.7 L286.9,579.9 L286.2,583.1 L285.3,586.2 L284.3,589.2 L283.2,592.0 L281.9,594.8 L280.6,597.4 L279.1,599.9"/>
<path class="h" style="stroke-width:3.30" d="M149.1,461.3 L150.0,459.6 L150.8,457.9 L151.8,456.2 L152.7,454.7 L153.8,453.2 L154.8,451.7 L155.9,450.3 L157.1,449.0 L158.3,447.7 L159.6,446.5 L160.9,445.3 L162.2,444.2 L163.6,443.2 L165.0,442.3 L166.5,441.4 L168.0,440.5 L169.6,439.8 L171.1,439.1 L172.7,438.5 L174.4,437.9 L176.1,437.5 L177.8,437.1 L179.5,436.7 L181.3,436.5 L183.1,436.3 L184.9,436.1 L186.7,436.1 L188.6,436.1 L190.5,436.2 L192.4,436.4 L194.3,436.6 L196.3,436.9 L198.2,437.3 L200.2,437.8 L202.1,438.3 L204.1,438.9 L206.1,439.5 L208.1,440.2 L210.1,441.0"/>
<path class="k" style="stroke-width:1.3" d="M149.1,461.3 L150.0,459.6 L150.8,457.9 L151.8,456.2 L152.7,454.7 L153.8,453.2 L154.8,451.7 L155.9,450.3 L157.1,449.0 L158.3,447.7 L159.6,446.5 L160.9,445.3 L162.2,444.2 L163.6,443.2 L165.0,442.3 L166.5,441.4 L168.0,440.5 L169.6,439.8 L171.1,439.1 L172.7,438.5 L174.4,437.9 L176.1,437.5 L177.8,437.1 L179.5,436.7 L181.3,436.5 L183.1,436.3 L184.9,436.1 L186.7,436.1 L188.6,436.1 L190.5,436.2 L192.4,436.4 L194.3,436.6 L196.3,436.9 L198.2,437.3 L200.2,437.8 L202.1,438.3 L204.1,438.9 L206.1,439.5 L208.1,440.2 L210.1,441.0"/>
<path class="h" style="stroke-width:5.00" d="M243.8,509.7 L244.1,510.6 L244.4,511.5 L244.7,512.4 L245.1,513.2 L245.5,514.1 L245.9,514.9 L246.3,515.7 L246.7,516.5 L247.2,517.3 L247.7,518.1 L248.3,518.9 L248.8,519.7 L249.5,520.6 L250.1,521.4 L250.9,522.2 L251.7,523.1 L252.5,523.9 L253.5,524.8 L254.7,525.8 L256.0,526.7 L257.8,527.8 L260.5,528.9 L266.6,530.5 L267.0,531.7 L267.3,532.9 L267.6,534.1 L267.9,535.3 L268.2,536.6 L268.4,537.8 L268.6,539.0 L268.9,540.2 L263.1,539.7 L261.1,540.1 L259.7,540.6 L258.8,541.2 L258.0,541.8 L257.3,542.5 L256.8,543.1 L256.3,543.8 L255.9,544.4 L255.6,545.1 L255.3,545.8 L255.0,546.5 L254.8,547.2 L254.6,547.9 L254.5,548.6 L254.3,549.4 L254.3,550.1 L254.2,550.9 L254.2,551.7 L254.2,552.5 L254.2,553.4 L254.3,554.3 L254.4,555.2 L254.6,556.2 L254.8,557.2 L255.0,558.2 L255.3,559.4 L255.7,560.6 L256.2,561.9 L256.8,563.4 L257.6,565.1 L258.8,567.1 L260.7,570.0 L267.5,577.8 L267.2,578.7 L266.9,579.7 L266.5,580.6 L266.2,581.5 L265.8,582.4 L262.0,579.5 L259.0,577.4 L257.1,576.3 L255.7,575.7 L254.4,575.3 L253.3,575.0 L252.3,574.9 L251.4,574.8 L250.5,574.9 L249.8,574.9 L249.0,575.1 L248.4,575.2 L247.7,575.5 L247.1,575.7 L246.5,576.0 L246.0,576.4 L245.5,576.8 L245.0,577.2 L244.5,577.7 L244.1,578.2 L243.6,578.8 L243.2,579.4 L242.9,580.1 L242.5,580.9 L242.2,581.7 L241.9,582.7 L241.7,583.8 L241.5,585.2 L241.4,586.7 L241.4,588.7 L241.8,591.6 L244.3,599.9 L243.4,600.0 L242.5,600.1 L241.6,600.2 L240.6,600.3 L239.7,600.3 L238.7,600.3 L237.8,600.3 L236.8,600.3 L235.9,600.2 L234.9,600.2 L233.9,600.1 L233.0,599.9 L232.0,599.8 L231.0,599.6 L230.0,599.4 L229.0,599.2 L226.5,590.9 L225.1,587.7 L224.0,585.6 L222.9,583.9 L222.0,582.6 L221.1,581.4 L220.2,580.4 L219.4,579.5 L218.6,578.7 L217.8,577.9 L217.0,577.3 L216.3,576.7 L215.5,576.1 L214.8,575.6 L214.0,575.1 L213.3,574.7 L212.6,574.3 L211.8,574.0 L211.1,573.7 L210.3,573.4 L209.5,573.2 L208.8,573.0 L208.0,572.9 L207.1,572.8 L206.3,572.7 L205.4,572.8 L204.5,572.9 L203.5,573.2 L202.5,573.5 L201.3,574.2 L200.0,575.3 L196.6,582.3 L195.7,581.4 L194.7,580.6 L193.7,579.7 L192.8,578.9 L191.8,578.0 L190.8,577.1 L189.9,576.1 L189.0,575.2 L188.0,574.2 L187.1,573.2 L186.2,572.3 L185.3,571.2 L184.4,570.2 L183.5,569.2 L182.6,568.1 L181.7,567.1 L180.8,566.0 L180.0,564.9 L179.1,563.8 L178.3,562.7 L177.5,561.6 L176.7,560.4 L180.5,555.3 L181.1,553.2 L181.4,551.5 L181.5,550.0 L181.5,548.6 L181.4,547.4 L181.3,546.2 L181.1,545.0 L180.9,543.9 L180.6,542.8 L180.3,541.8 L180.0,540.8 L179.7,539.8 L179.3,538.9 L178.9,537.9 L178.5,537.0 L178.0,536.0 L177.5,535.1 L177.0,534.2 L176.4,533.2 L175.8,532.3 L175.1,531.4 L174.4,530.4 L173.6,529.5 L172.7,528.5 L171.7,527.5 L170.6,526.5 L169.3,525.4 L167.7,524.3 L165.5,523.0 L157.5,521.2 L157.1,519.9 L156.7,518.6 L156.4,517.2 L156.0,515.9 L155.7,514.6 L155.4,513.2 L155.1,511.9 L154.8,510.6 L154.6,509.2 L160.9,509.9 L162.8,509.4 L164.0,508.7 L165.0,508.0 L165.7,507.3 L166.4,506.6 L166.9,505.8 L167.3,505.0 L167.7,504.2 L168.0,503.4 L168.3,502.6 L168.5,501.8 L168.7,500.9 L168.8,500.1 L168.9,499.2 L168.9,498.3 L168.9,497.3 L168.9,496.4 L168.8,495.4 L168.7,494.3 L168.5,493.2 L168.2,492.1 L167.9,490.8 L167.5,489.5 L167.0,488.1 L166.4,486.6 L165.6,484.8 L164.4,482.7 L162.7,480.0 L156.0,472.8 L156.4,471.8 L156.8,470.8 L157.2,469.8 L163.3,474.6 L165.8,475.9 L167.6,476.5 L169.0,476.9 L170.2,477.0 L171.3,477.1 L172.2,477.0 L173.1,476.9 L173.9,476.7 L174.6,476.4 L175.3,476.1 L175.9,475.8 L176.5,475.4 L177.1,474.9 L177.6,474.4 L178.1,473.9 L178.5,473.3 L179.0,472.7 L179.4,472.0 L179.7,471.2 L180.0,470.4 L180.3,469.5 L180.6,468.5 L180.7,467.4 L180.9,466.1 L180.9,464.6 L180.8,462.8 L180.5,460.6 L179.7,457.2 L177.6,450.9 L178.5,450.7 L179.4,450.5 L180.4,450.4 L181.3,450.2 L182.2,450.1 L183.2,450.0 L184.2,450.0 L185.1,449.9 L186.1,449.9 L187.1,449.9 L188.1,449.9 L189.1,450.0 L190.1,450.1 L191.1,450.1 L192.1,450.3 L193.1,450.4 L194.1,450.6 L195.1,450.8 L196.1,451.0 L200.0,463.2 L201.3,465.4 L202.4,467.1 L203.4,468.4 L204.4,469.5 L205.3,470.5 L206.2,471.4 L207.0,472.1 L207.8,472.8 L208.6,473.4 L209.4,474.0 L210.2,474.5 L210.9,474.9 L211.7,475.3 L212.4,475.7 L213.1,476.0 L213.9,476.3 L214.6,476.5 L215.4,476.7 L216.1,476.9 L216.9,477.0 L217.7,477.0 L218.5,477.1 L219.3,477.0 L220.1,476.9 L221.0,476.7 L221.9,476.3 L222.8,475.8 L223.9,475.1 L225.1,473.9 L226.6,471.4 L228.4,468.2 L229.4,469.1 L230.3,469.9 L231.3,470.8 L232.2,471.6 L233.1,472.5 L234.0,473.4 L234.9,474.4 L235.8,475.3 L236.7,476.2 L237.6,477.2 L238.5,478.2 L239.3,479.1 L240.2,480.1 L241.0,481.1 L241.9,482.2 L242.7,483.2 L243.5,484.2 L244.3,485.3 L245.1,486.3 L245.8,487.4 L246.6,488.5 L247.4,489.6 L243.7,495.3 L242.9,497.7 L242.6,499.5 L242.5,501.0 L242.5,502.4 L242.6,503.6 L242.7,504.7 L242.8,505.8 L243.0,506.9 L243.2,507.9 L243.5,508.8Z"/>
<path class="k" style="stroke-width:3.0" d="M243.8,509.7 L244.1,510.6 L244.4,511.5 L244.7,512.4 L245.1,513.2 L245.5,514.1 L245.9,514.9 L246.3,515.7 L246.7,516.5 L247.2,517.3 L247.7,518.1 L248.3,518.9 L248.8,519.7 L249.5,520.6 L250.1,521.4 L250.9,522.2 L251.7,523.1 L252.5,523.9 L253.5,524.8 L254.7,525.8 L256.0,526.7 L257.8,527.8 L260.5,528.9 L266.6,530.5 L267.0,531.7 L267.3,532.9 L267.6,534.1 L267.9,535.3 L268.2,536.6 L268.4,537.8 L268.6,539.0 L268.9,540.2 L263.1,539.7 L261.1,540.1 L259.7,540.6 L258.8,541.2 L258.0,541.8 L257.3,542.5 L256.8,543.1 L256.3,543.8 L255.9,544.4 L255.6,545.1 L255.3,545.8 L255.0,546.5 L254.8,547.2 L254.6,547.9 L254.5,548.6 L254.3,549.4 L254.3,550.1 L254.2,550.9 L254.2,551.7 L254.2,552.5 L254.2,553.4 L254.3,554.3 L254.4,555.2 L254.6,556.2 L254.8,557.2 L255.0,558.2 L255.3,559.4 L255.7,560.6 L256.2,561.9 L256.8,563.4 L257.6,565.1 L258.8,567.1 L260.7,570.0 L267.5,577.8 L267.2,578.7 L266.9,579.7 L266.5,580.6 L266.2,581.5 L265.8,582.4 L262.0,579.5 L259.0,577.4 L257.1,576.3 L255.7,575.7 L254.4,575.3 L253.3,575.0 L252.3,574.9 L251.4,574.8 L250.5,574.9 L249.8,574.9 L249.0,575.1 L248.4,575.2 L247.7,575.5 L247.1,575.7 L246.5,576.0 L246.0,576.4 L245.5,576.8 L245.0,577.2 L244.5,577.7 L244.1,578.2 L243.6,578.8 L243.2,579.4 L242.9,580.1 L242.5,580.9 L242.2,581.7 L241.9,582.7 L241.7,583.8 L241.5,585.2 L241.4,586.7 L241.4,588.7 L241.8,591.6 L244.3,599.9 L243.4,600.0 L242.5,600.1 L241.6,600.2 L240.6,600.3 L239.7,600.3 L238.7,600.3 L237.8,600.3 L236.8,600.3 L235.9,600.2 L234.9,600.2 L233.9,600.1 L233.0,599.9 L232.0,599.8 L231.0,599.6 L230.0,599.4 L229.0,599.2 L226.5,590.9 L225.1,587.7 L224.0,585.6 L222.9,583.9 L222.0,582.6 L221.1,581.4 L220.2,580.4 L219.4,579.5 L218.6,578.7 L217.8,577.9 L217.0,577.3 L216.3,576.7 L215.5,576.1 L214.8,575.6 L214.0,575.1 L213.3,574.7 L212.6,574.3 L211.8,574.0 L211.1,573.7 L210.3,573.4 L209.5,573.2 L208.8,573.0 L208.0,572.9 L207.1,572.8 L206.3,572.7 L205.4,572.8 L204.5,572.9 L203.5,573.2 L202.5,573.5 L201.3,574.2 L200.0,575.3 L196.6,582.3 L195.7,581.4 L194.7,580.6 L193.7,579.7 L192.8,578.9 L191.8,578.0 L190.8,577.1 L189.9,576.1 L189.0,575.2 L188.0,574.2 L187.1,573.2 L186.2,572.3 L185.3,571.2 L184.4,570.2 L183.5,569.2 L182.6,568.1 L181.7,567.1 L180.8,566.0 L180.0,564.9 L179.1,563.8 L178.3,562.7 L177.5,561.6 L176.7,560.4 L180.5,555.3 L181.1,553.2 L181.4,551.5 L181.5,550.0 L181.5,548.6 L181.4,547.4 L181.3,546.2 L181.1,545.0 L180.9,543.9 L180.6,542.8 L180.3,541.8 L180.0,540.8 L179.7,539.8 L179.3,538.9 L178.9,537.9 L178.5,537.0 L178.0,536.0 L177.5,535.1 L177.0,534.2 L176.4,533.2 L175.8,532.3 L175.1,531.4 L174.4,530.4 L173.6,529.5 L172.7,528.5 L171.7,527.5 L170.6,526.5 L169.3,525.4 L167.7,524.3 L165.5,523.0 L157.5,521.2 L157.1,519.9 L156.7,518.6 L156.4,517.2 L156.0,515.9 L155.7,514.6 L155.4,513.2 L155.1,511.9 L154.8,510.6 L154.6,509.2 L160.9,509.9 L162.8,509.4 L164.0,508.7 L165.0,508.0 L165.7,507.3 L166.4,506.6 L166.9,505.8 L167.3,505.0 L167.7,504.2 L168.0,503.4 L168.3,502.6 L168.5,501.8 L168.7,500.9 L168.8,500.1 L168.9,499.2 L168.9,498.3 L168.9,497.3 L168.9,496.4 L168.8,495.4 L168.7,494.3 L168.5,493.2 L168.2,492.1 L167.9,490.8 L167.5,489.5 L167.0,488.1 L166.4,486.6 L165.6,484.8 L164.4,482.7 L162.7,480.0 L156.0,472.8 L156.4,471.8 L156.8,470.8 L157.2,469.8 L163.3,474.6 L165.8,475.9 L167.6,476.5 L169.0,476.9 L170.2,477.0 L171.3,477.1 L172.2,477.0 L173.1,476.9 L173.9,476.7 L174.6,476.4 L175.3,476.1 L175.9,475.8 L176.5,475.4 L177.1,474.9 L177.6,474.4 L178.1,473.9 L178.5,473.3 L179.0,472.7 L179.4,472.0 L179.7,471.2 L180.0,470.4 L180.3,469.5 L180.6,468.5 L180.7,467.4 L180.9,466.1 L180.9,464.6 L180.8,462.8 L180.5,460.6 L179.7,457.2 L177.6,450.9 L178.5,450.7 L179.4,450.5 L180.4,450.4 L181.3,450.2 L182.2,450.1 L183.2,450.0 L184.2,450.0 L185.1,449.9 L186.1,449.9 L187.1,449.9 L188.1,449.9 L189.1,450.0 L190.1,450.1 L191.1,450.1 L192.1,450.3 L193.1,450.4 L194.1,450.6 L195.1,450.8 L196.1,451.0 L200.0,463.2 L201.3,465.4 L202.4,467.1 L203.4,468.4 L204.4,469.5 L205.3,470.5 L206.2,471.4 L207.0,472.1 L207.8,472.8 L208.6,473.4 L209.4,474.0 L210.2,474.5 L210.9,474.9 L211.7,475.3 L212.4,475.7 L213.1,476.0 L213.9,476.3 L214.6,476.5 L215.4,476.7 L216.1,476.9 L216.9,477.0 L217.7,477.0 L218.5,477.1 L219.3,477.0 L220.1,476.9 L221.0,476.7 L221.9,476.3 L222.8,475.8 L223.9,475.1 L225.1,473.9 L226.6,471.4 L228.4,468.2 L229.4,469.1 L230.3,469.9 L231.3,470.8 L232.2,471.6 L233.1,472.5 L234.0,473.4 L234.9,474.4 L235.8,475.3 L236.7,476.2 L237.6,477.2 L238.5,478.2 L239.3,479.1 L240.2,480.1 L241.0,481.1 L241.9,482.2 L242.7,483.2 L243.5,484.2 L244.3,485.3 L245.1,486.3 L245.8,487.4 L246.6,488.5 L247.4,489.6 L243.7,495.3 L242.9,497.7 L242.6,499.5 L242.5,501.0 L242.5,502.4 L242.6,503.6 L242.7,504.7 L242.8,505.8 L243.0,506.9 L243.2,507.9 L243.5,508.8Z"/>
<path class="h" style="stroke-width:3.50" d="M241.2,511.2 L241.5,512.0 L241.8,512.8 L242.1,513.6 L242.4,514.3 L242.8,515.1 L243.2,515.8 L243.6,516.6 L244.0,517.3 L244.4,518.1 L244.8,518.8 L245.3,519.6 L245.8,520.3 L246.3,521.1 L246.8,521.8 L247.4,522.6 L248.0,523.4 L248.7,524.2 L249.4,525.0 L250.2,525.8 L251.0,526.7 L252.0,527.6 L253.1,528.5 L254.3,529.5 L255.8,530.5 L257.9,531.7 L261.7,533.2 L265.0,534.8 L262.5,535.4 L259.6,535.8 L258.0,536.4 L256.8,537.0 L255.9,537.7 L255.2,538.3 L254.6,538.9 L254.0,539.6 L253.6,540.2 L253.1,540.9 L252.8,541.5 L252.5,542.1 L252.2,542.8 L251.9,543.4 L251.7,544.1 L251.5,544.7 L251.4,545.4 L251.2,546.1 L251.1,546.7 L251.0,547.4 L251.0,548.1 L250.9,548.8 L250.9,549.6 L250.9,550.3 L250.9,551.1 L250.9,551.9 L251.0,552.7 L251.0,553.5 L251.2,554.4 L251.3,555.3 L251.5,556.2 L251.7,557.2 L251.9,558.2 L252.2,559.4 L252.6,560.6 L253.1,561.9 L253.7,563.3 L254.4,564.9 L255.3,566.8 L256.7,569.3 L259.7,573.4 L258.3,573.0 L256.4,572.1 L254.9,571.6 L253.7,571.2 L252.6,570.9 L251.6,570.8 L250.7,570.7 L249.8,570.6 L249.0,570.7 L248.3,570.7 L247.6,570.9 L246.9,571.0 L246.3,571.2 L245.7,571.4 L245.2,571.6 L244.6,571.9 L244.1,572.2 L243.6,572.5 L243.1,572.9 L242.6,573.3 L242.2,573.7 L241.8,574.1 L241.3,574.6 L240.9,575.1 L240.6,575.7 L240.2,576.3 L239.8,577.0 L239.5,577.7 L239.2,578.5 L238.9,579.4 L238.6,580.4 L238.4,581.6 L238.2,582.9 L238.1,584.4 L238.1,586.3 L238.3,588.9 L239.3,593.9 L239.2,596.2 L238.3,596.2 L237.4,596.2 L236.5,596.2 L235.6,596.2 L234.7,596.1 L233.8,596.1 L232.9,596.0 L231.9,595.9 L231.0,595.7 L228.4,587.9 L227.0,585.2 L225.9,583.2 L224.8,581.6 L223.9,580.3 L223.0,579.1 L222.1,578.1 L221.3,577.2 L220.5,576.4 L219.7,575.6 L219.0,574.9 L218.3,574.3 L217.5,573.7 L216.8,573.1 L216.1,572.6 L215.5,572.1 L214.8,571.7 L214.1,571.3 L213.4,570.9 L212.7,570.5 L212.0,570.2 L211.3,569.9 L210.7,569.6 L210.0,569.4 L209.2,569.2 L208.5,569.0 L207.8,568.8 L207.0,568.7 L206.2,568.6 L205.4,568.5 L204.6,568.6 L203.7,568.6 L202.8,568.7 L201.9,569.0 L200.8,569.3 L199.6,569.9 L198.3,570.8 L196.5,572.5 L194.0,576.0 L193.1,575.1 L192.2,574.3 L191.3,573.4 L190.4,572.5 L189.5,571.6 L188.6,570.7 L187.7,569.7 L186.9,568.8 L186.0,567.8 L185.2,566.8 L184.4,565.8 L183.5,564.8 L182.7,563.8 L181.9,562.8 L182.9,559.8 L184.1,556.9 L184.5,554.9 L184.7,553.1 L184.8,551.6 L184.8,550.2 L184.8,549.0 L184.7,547.7 L184.5,546.6 L184.3,545.5 L184.1,544.5 L183.9,543.5 L183.6,542.5 L183.3,541.5 L183.0,540.6 L182.7,539.7 L182.4,538.8 L182.0,537.9 L181.6,537.0 L181.2,536.1 L180.8,535.3 L180.3,534.4 L179.9,533.5 L179.4,532.7 L178.8,531.8 L178.3,531.0 L177.7,530.1 L177.0,529.2 L176.4,528.3 L175.6,527.4 L174.8,526.4 L173.9,525.5 L172.9,524.5 L171.8,523.4 L170.5,522.3 L168.9,521.2 L166.8,519.9 L163.4,518.3 L159.2,516.5 L158.9,515.2 L160.1,514.2 L163.4,513.9 L165.2,513.3 L166.4,512.6 L167.4,511.8 L168.2,511.1 L168.9,510.4 L169.4,509.7 L169.9,508.9 L170.3,508.2 L170.7,507.4 L171.0,506.7 L171.3,505.9 L171.5,505.1 L171.7,504.4 L171.9,503.6 L172.0,502.8 L172.1,502.0 L172.2,501.1 L172.2,500.3 L172.2,499.4 L172.2,498.5 L172.2,497.6 L172.1,496.7 L172.0,495.7 L171.9,494.7 L171.7,493.7 L171.4,492.6 L171.1,491.4 L170.8,490.2 L170.4,488.8 L169.8,487.4 L169.2,485.8 L168.4,484.0 L167.2,481.9 L166.4,480.0 L168.2,480.6 L169.7,481.0 L171.0,481.2 L172.1,481.3 L173.1,481.2 L174.0,481.2 L174.8,481.0 L175.6,480.8 L176.3,480.6 L176.9,480.4 L177.6,480.1 L178.2,479.7 L178.7,479.4 L179.2,479.0 L179.8,478.6 L180.2,478.1 L180.7,477.6 L181.1,477.1 L181.5,476.5 L181.9,475.9 L182.3,475.3 L182.6,474.6 L182.9,473.8 L183.2,473.0 L183.5,472.1 L183.7,471.2 L183.9,470.1 L184.1,468.9 L184.2,467.6 L184.2,466.1 L184.2,464.3 L183.9,462.0 L183.2,458.7 L182.2,454.5 L183.1,454.4 L184.0,454.3 L184.9,454.2 L185.8,454.2 L186.8,454.1 L187.7,454.1 L188.6,454.1 L189.5,454.1 L190.5,454.2 L191.4,454.2 L192.4,454.3 L193.3,454.4 L196.7,463.1 L198.3,466.0 L199.6,468.1 L200.7,469.7 L201.8,471.0 L202.7,472.1 L203.6,473.1 L204.5,474.0 L205.3,474.7 L206.1,475.4 L206.9,476.1 L207.7,476.7 L208.4,477.2 L209.1,477.7 L209.8,478.2 L210.5,478.6 L211.2,479.0 L211.9,479.3 L212.6,479.6 L213.3,479.9 L214.0,480.2 L214.6,480.4 L215.3,480.7 L216.0,480.8 L216.7,481.0 L217.4,481.1 L218.1,481.2 L218.9,481.2 L219.6,481.3 L220.4,481.2 L221.2,481.1 L222.0,481.0 L222.9,480.8 L223.8,480.4 L224.8,480.0 L225.8,479.3 L227.0,478.3 L228.5,476.6 L230.4,473.8 L231.2,474.6 L232.1,475.5 L233.0,476.3 L233.8,477.2 L234.7,478.1 L235.5,479.0 L236.3,479.9 L237.2,480.8 L238.0,481.7 L238.8,482.7 L239.6,483.6 L240.4,484.6 L241.1,485.6 L241.9,486.5 L242.6,487.5 L240.9,491.8 L239.8,495.0 L239.4,497.0 L239.2,498.7 L239.2,500.2 L239.2,501.5 L239.3,502.7 L239.4,503.8 L239.5,504.9 L239.7,505.9 L239.9,506.8 L240.1,507.8 L240.4,508.7 L240.6,509.5 L240.9,510.4Z"/>
<path class="k" style="stroke-width:1.5" d="M241.2,511.2 L241.5,512.0 L241.8,512.8 L242.1,513.6 L242.4,514.3 L242.8,515.1 L243.2,515.8 L243.6,516.6 L244.0,517.3 L244.4,518.1 L244.8,518.8 L245.3,519.6 L245.8,520.3 L246.3,521.1 L246.8,521.8 L247.4,522.6 L248.0,523.4 L248.7,524.2 L249.4,525.0 L250.2,525.8 L251.0,526.7 L252.0,527.6 L253.1,528.5 L254.3,529.5 L255.8,530.5 L257.9,531.7 L261.7,533.2 L265.0,534.8 L262.5,535.4 L259.6,535.8 L258.0,536.4 L256.8,537.0 L255.9,537.7 L255.2,538.3 L254.6,538.9 L254.0,539.6 L253.6,540.2 L253.1,540.9 L252.8,541.5 L252.5,542.1 L252.2,542.8 L251.9,543.4 L251.7,544.1 L251.5,544.7 L251.4,545.4 L251.2,546.1 L251.1,546.7 L251.0,547.4 L251.0,548.1 L250.9,548.8 L250.9,549.6 L250.9,550.3 L250.9,551.1 L250.9,551.9 L251.0,552.7 L251.0,553.5 L251.2,554.4 L251.3,555.3 L251.5,556.2 L251.7,557.2 L251.9,558.2 L252.2,559.4 L252.6,560.6 L253.1,561.9 L253.7,563.3 L254.4,564.9 L255.3,566.8 L256.7,569.3 L259.7,573.4 L258.3,573.0 L256.4,572.1 L254.9,571.6 L253.7,571.2 L252.6,570.9 L251.6,570.8 L250.7,570.7 L249.8,570.6 L249.0,570.7 L248.3,570.7 L247.6,570.9 L246.9,571.0 L246.3,571.2 L245.7,571.4 L245.2,571.6 L244.6,571.9 L244.1,572.2 L243.6,572.5 L243.1,572.9 L242.6,573.3 L242.2,573.7 L241.8,574.1 L241.3,574.6 L240.9,575.1 L240.6,575.7 L240.2,576.3 L239.8,577.0 L239.5,577.7 L239.2,578.5 L238.9,579.4 L238.6,580.4 L238.4,581.6 L238.2,582.9 L238.1,584.4 L238.1,586.3 L238.3,588.9 L239.3,593.9 L239.2,596.2 L238.3,596.2 L237.4,596.2 L236.5,596.2 L235.6,596.2 L234.7,596.1 L233.8,596.1 L232.9,596.0 L231.9,595.9 L231.0,595.7 L228.4,587.9 L227.0,585.2 L225.9,583.2 L224.8,581.6 L223.9,580.3 L223.0,579.1 L222.1,578.1 L221.3,577.2 L220.5,576.4 L219.7,575.6 L219.0,574.9 L218.3,574.3 L217.5,573.7 L216.8,573.1 L216.1,572.6 L215.5,572.1 L214.8,571.7 L214.1,571.3 L213.4,570.9 L212.7,570.5 L212.0,570.2 L211.3,569.9 L210.7,569.6 L210.0,569.4 L209.2,569.2 L208.5,569.0 L207.8,568.8 L207.0,568.7 L206.2,568.6 L205.4,568.5 L204.6,568.6 L203.7,568.6 L202.8,568.7 L201.9,569.0 L200.8,569.3 L199.6,569.9 L198.3,570.8 L196.5,572.5 L194.0,576.0 L193.1,575.1 L192.2,574.3 L191.3,573.4 L190.4,572.5 L189.5,571.6 L188.6,570.7 L187.7,569.7 L186.9,568.8 L186.0,567.8 L185.2,566.8 L184.4,565.8 L183.5,564.8 L182.7,563.8 L181.9,562.8 L182.9,559.8 L184.1,556.9 L184.5,554.9 L184.7,553.1 L184.8,551.6 L184.8,550.2 L184.8,549.0 L184.7,547.7 L184.5,546.6 L184.3,545.5 L184.1,544.5 L183.9,543.5 L183.6,542.5 L183.3,541.5 L183.0,540.6 L182.7,539.7 L182.4,538.8 L182.0,537.9 L181.6,537.0 L181.2,536.1 L180.8,535.3 L180.3,534.4 L179.9,533.5 L179.4,532.7 L178.8,531.8 L178.3,531.0 L177.7,530.1 L177.0,529.2 L176.4,528.3 L175.6,527.4 L174.8,526.4 L173.9,525.5 L172.9,524.5 L171.8,523.4 L170.5,522.3 L168.9,521.2 L166.8,519.9 L163.4,518.3 L159.2,516.5 L158.9,515.2 L160.1,514.2 L163.4,513.9 L165.2,513.3 L166.4,512.6 L167.4,511.8 L168.2,511.1 L168.9,510.4 L169.4,509.7 L169.9,508.9 L170.3,508.2 L170.7,507.4 L171.0,506.7 L171.3,505.9 L171.5,505.1 L171.7,504.4 L171.9,503.6 L172.0,502.8 L172.1,502.0 L172.2,501.1 L172.2,500.3 L172.2,499.4 L172.2,498.5 L172.2,497.6 L172.1,496.7 L172.0,495.7 L171.9,494.7 L171.7,493.7 L171.4,492.6 L171.1,491.4 L170.8,490.2 L170.4,488.8 L169.8,487.4 L169.2,485.8 L168.4,484.0 L167.2,481.9 L166.4,480.0 L168.2,480.6 L169.7,481.0 L171.0,481.2 L172.1,481.3 L173.1,481.2 L174.0,481.2 L174.8,481.0 L175.6,480.8 L176.3,480.6 L176.9,480.4 L177.6,480.1 L178.2,479.7 L178.7,479.4 L179.2,479.0 L179.8,478.6 L180.2,478.1 L180.7,477.6 L181.1,477.1 L181.5,476.5 L181.9,475.9 L182.3,475.3 L182.6,474.6 L182.9,473.8 L183.2,473.0 L183.5,472.1 L183.7,471.2 L183.9,470.1 L184.1,468.9 L184.2,467.6 L184.2,466.1 L184.2,464.3 L183.9,462.0 L183.2,458.7 L182.2,454.5 L183.1,454.4 L184.0,454.3 L184.9,454.2 L185.8,454.2 L186.8,454.1 L187.7,454.1 L188.6,454.1 L189.5,454.1 L190.5,454.2 L191.4,454.2 L192.4,454.3 L193.3,454.4 L196.7,463.1 L198.3,466.0 L199.6,468.1 L200.7,469.7 L201.8,471.0 L202.7,472.1 L203.6,473.1 L204.5,474.0 L205.3,474.7 L206.1,475.4 L206.9,476.1 L207.7,476.7 L208.4,477.2 L209.1,477.7 L209.8,478.2 L210.5,478.6 L211.2,479.0 L211.9,479.3 L212.6,479.6 L213.3,479.9 L214.0,480.2 L214.6,480.4 L215.3,480.7 L216.0,480.8 L216.7,481.0 L217.4,481.1 L218.1,481.2 L218.9,481.2 L219.6,481.3 L220.4,481.2 L221.2,481.1 L222.0,481.0 L222.9,480.8 L223.8,480.4 L224.8,480.0 L225.8,479.3 L227.0,478.3 L228.5,476.6 L230.4,473.8 L231.2,474.6 L232.1,475.5 L233.0,476.3 L233.8,477.2 L234.7,478.1 L235.5,479.0 L236.3,479.9 L237.2,480.8 L238.0,481.7 L238.8,482.7 L239.6,483.6 L240.4,484.6 L241.1,485.6 L241.9,486.5 L242.6,487.5 L240.9,491.8 L239.8,495.0 L239.4,497.0 L239.2,498.7 L239.2,500.2 L239.2,501.5 L239.3,502.7 L239.4,503.8 L239.5,504.9 L239.7,505.9 L239.9,506.8 L240.1,507.8 L240.4,508.7 L240.6,509.5 L240.9,510.4Z"/>
<path class="h" style="stroke-width:5.30" d="M171.0,538.6 L171.7,540.0 L172.2,541.4 L172.6,542.8 L172.8,544.2 L172.8,545.6 L172.7,546.8 L172.4,547.9 L171.9,548.9 L171.2,549.6 L170.5,550.2 L169.6,550.6 L168.6,550.7 L167.5,550.7 L166.4,550.4 L165.2,549.8 L164.1,549.1 L163.0,548.2 L162.0,547.1 L161.0,545.9 L160.2,544.6 L159.5,543.2 L159.0,541.8 L158.6,540.4 L158.4,539.0 L158.4,537.6 L158.5,536.4 L158.8,535.3 L159.3,534.3 L160.0,533.6 L160.7,533.0 L161.6,532.6 L162.6,532.5 L163.7,532.5 L164.8,532.8 L166.0,533.4 L167.1,534.1 L168.2,535.0 L169.2,536.1 L170.2,537.3Z"/>
<path class="k" style="stroke-width:3.3" d="M171.0,538.6 L171.7,540.0 L172.2,541.4 L172.6,542.8 L172.8,544.2 L172.8,545.6 L172.7,546.8 L172.4,547.9 L171.9,548.9 L171.2,549.6 L170.5,550.2 L169.6,550.6 L168.6,550.7 L167.5,550.7 L166.4,550.4 L165.2,549.8 L164.1,549.1 L163.0,548.2 L162.0,547.1 L161.0,545.9 L160.2,544.6 L159.5,543.2 L159.0,541.8 L158.6,540.4 L158.4,539.0 L158.4,537.6 L158.5,536.4 L158.8,535.3 L159.3,534.3 L160.0,533.6 L160.7,533.0 L161.6,532.6 L162.6,532.5 L163.7,532.5 L164.8,532.8 L166.0,533.4 L167.1,534.1 L168.2,535.0 L169.2,536.1 L170.2,537.3Z"/>
<path class="h" style="stroke-width:5.30" d="M158.4,487.0 L159.1,488.4 L159.6,489.8 L160.0,491.2 L160.2,492.6 L160.2,494.0 L160.1,495.2 L159.8,496.3 L159.3,497.3 L158.6,498.0 L157.9,498.6 L157.0,499.0 L156.0,499.1 L154.9,499.1 L153.8,498.8 L152.6,498.2 L151.5,497.5 L150.4,496.6 L149.4,495.5 L148.4,494.3 L147.6,493.0 L146.9,491.6 L146.4,490.2 L146.0,488.8 L145.8,487.4 L145.8,486.0 L145.9,484.8 L146.2,483.7 L146.7,482.7 L147.4,482.0 L148.1,481.4 L149.0,481.0 L150.0,480.9 L151.1,480.9 L152.2,481.2 L153.4,481.8 L154.5,482.5 L155.6,483.4 L156.6,484.5 L157.6,485.7Z"/>
<path class="k" style="stroke-width:3.3" d="M158.4,487.0 L159.1,488.4 L159.6,489.8 L160.0,491.2 L160.2,492.6 L160.2,494.0 L160.1,495.2 L159.8,496.3 L159.3,497.3 L158.6,498.0 L157.9,498.6 L157.0,499.0 L156.0,499.1 L154.9,499.1 L153.8,498.8 L152.6,498.2 L151.5,497.5 L150.4,496.6 L149.4,495.5 L148.4,494.3 L147.6,493.0 L146.9,491.6 L146.4,490.2 L146.0,488.8 L145.8,487.4 L145.8,486.0 L145.9,484.8 L146.2,483.7 L146.7,482.7 L147.4,482.0 L148.1,481.4 L149.0,481.0 L150.0,480.9 L151.1,480.9 L152.2,481.2 L153.4,481.8 L154.5,482.5 L155.6,483.4 L156.6,484.5 L157.6,485.7Z"/>
<path class="h" style="stroke-width:5.30" d="M170.4,454.0 L171.1,455.4 L171.6,456.8 L172.0,458.2 L172.2,459.6 L172.2,461.0 L172.1,462.2 L171.8,463.3 L171.3,464.3 L170.6,465.0 L169.9,465.6 L169.0,466.0 L168.0,466.1 L166.9,466.1 L165.8,465.8 L164.6,465.2 L163.5,464.5 L162.4,463.6 L161.4,462.5 L160.4,461.3 L159.6,460.0 L158.9,458.6 L158.4,457.2 L158.0,455.8 L157.8,454.4 L157.8,453.0 L157.9,451.8 L158.2,450.7 L158.7,449.7 L159.4,449.0 L160.1,448.4 L161.0,448.0 L162.0,447.9 L163.1,447.9 L164.2,448.2 L165.4,448.8 L166.5,449.5 L167.6,450.4 L168.6,451.5 L169.6,452.7Z"/>
<path class="k" style="stroke-width:3.3" d="M170.4,454.0 L171.1,455.4 L171.6,456.8 L172.0,458.2 L172.2,459.6 L172.2,461.0 L172.1,462.2 L171.8,463.3 L171.3,464.3 L170.6,465.0 L169.9,465.6 L169.0,466.0 L168.0,466.1 L166.9,466.1 L165.8,465.8 L164.6,465.2 L163.5,464.5 L162.4,463.6 L161.4,462.5 L160.4,461.3 L159.6,460.0 L158.9,458.6 L158.4,457.2 L158.0,455.8 L157.8,454.4 L157.8,453.0 L157.9,451.8 L158.2,450.7 L158.7,449.7 L159.4,449.0 L160.1,448.4 L161.0,448.0 L162.0,447.9 L163.1,447.9 L164.2,448.2 L165.4,448.8 L166.5,449.5 L167.6,450.4 L168.6,451.5 L169.6,452.7Z"/>
<path class="h" style="stroke-width:5.30" d="M217.4,454.0 L218.1,455.4 L218.6,456.8 L219.0,458.2 L219.2,459.6 L219.2,461.0 L219.1,462.2 L218.8,463.3 L218.3,464.3 L217.6,465.0 L216.9,465.6 L216.0,466.0 L215.0,466.1 L213.9,466.1 L212.8,465.8 L211.6,465.2 L210.5,464.5 L209.4,463.6 L208.4,462.5 L207.4,461.3 L206.6,460.0 L205.9,458.6 L205.4,457.2 L205.0,455.8 L204.8,454.4 L204.8,453.0 L204.9,451.8 L205.2,450.7 L205.7,449.7 L206.4,449.0 L207.1,448.4 L208.0,448.0 L209.0,447.9 L210.1,447.9 L211.2,448.2 L212.4,448.8 L213.5,449.5 L214.6,450.4 L215.6,451.5 L216.6,452.7Z"/>
<path class="k" style="stroke-width:3.3" d="M217.4,454.0 L218.1,455.4 L218.6,456.8 L219.0,458.2 L219.2,459.6 L219.2,461.0 L219.1,462.2 L218.8,463.3 L218.3,464.3 L217.6,465.0 L216.9,465.6 L216.0,466.0 L215.0,466.1 L213.9,466.1 L212.8,465.8 L211.6,465.2 L210.5,464.5 L209.4,463.6 L208.4,462.5 L207.4,461.3 L206.6,460.0 L205.9,458.6 L205.4,457.2 L205.0,455.8 L204.8,454.4 L204.8,453.0 L204.9,451.8 L205.2,450.7 L205.7,449.7 L206.4,449.0 L207.1,448.4 L208.0,448.0 L209.0,447.9 L210.1,447.9 L211.2,448.2 L212.4,448.8 L213.5,449.5 L214.6,450.4 L215.6,451.5 L216.6,452.7Z"/>
<path class="h" style="stroke-width:5.30" d="M263.8,506.6 L264.5,508.0 L265.0,509.4 L265.4,510.8 L265.6,512.2 L265.6,513.6 L265.5,514.8 L265.2,515.9 L264.7,516.9 L264.0,517.6 L263.3,518.2 L262.4,518.6 L261.4,518.7 L260.3,518.7 L259.2,518.4 L258.0,517.8 L256.9,517.1 L255.8,516.2 L254.8,515.1 L253.8,513.9 L253.0,512.6 L252.3,511.2 L251.8,509.8 L251.4,508.4 L251.2,507.0 L251.2,505.6 L251.3,504.4 L251.6,503.3 L252.1,502.3 L252.8,501.6 L253.5,501.0 L254.4,500.6 L255.4,500.5 L256.5,500.5 L257.6,500.8 L258.8,501.4 L259.9,502.1 L261.0,503.0 L262.0,504.1 L263.0,505.3Z"/>
<path class="k" style="stroke-width:3.3" d="M263.8,506.6 L264.5,508.0 L265.0,509.4 L265.4,510.8 L265.6,512.2 L265.6,513.6 L265.5,514.8 L265.2,515.9 L264.7,516.9 L264.0,517.6 L263.3,518.2 L262.4,518.6 L261.4,518.7 L260.3,518.7 L259.2,518.4 L258.0,517.8 L256.9,517.1 L255.8,516.2 L254.8,515.1 L253.8,513.9 L253.0,512.6 L252.3,511.2 L251.8,509.8 L251.4,508.4 L251.2,507.0 L251.2,505.6 L251.3,504.4 L251.6,503.3 L252.1,502.3 L252.8,501.6 L253.5,501.0 L254.4,500.6 L255.4,500.5 L256.5,500.5 L257.6,500.8 L258.8,501.4 L259.9,502.1 L261.0,503.0 L262.0,504.1 L263.0,505.3Z"/>
<path class="h" style="stroke-width:5.30" d="M275.5,556.7 L276.2,558.1 L276.7,559.5 L277.1,560.9 L277.3,562.3 L277.3,563.7 L277.2,564.9 L276.9,566.0 L276.4,567.0 L275.7,567.7 L275.0,568.3 L274.1,568.7 L273.1,568.8 L272.0,568.8 L270.9,568.5 L269.7,567.9 L268.6,567.2 L267.5,566.3 L266.5,565.2 L265.5,564.0 L264.7,562.7 L264.0,561.3 L263.5,559.9 L263.1,558.5 L262.9,557.1 L262.9,555.7 L263.0,554.5 L263.3,553.4 L263.8,552.4 L264.5,551.7 L265.2,551.1 L266.1,550.7 L267.1,550.6 L268.2,550.6 L269.3,550.9 L270.5,551.5 L271.6,552.2 L272.7,553.1 L273.7,554.2 L274.7,555.4Z"/>
<path class="k" style="stroke-width:3.3" d="M275.5,556.7 L276.2,558.1 L276.7,559.5 L277.1,560.9 L277.3,562.3 L277.3,563.7 L277.2,564.9 L276.9,566.0 L276.4,567.0 L275.7,567.7 L275.0,568.3 L274.1,568.7 L273.1,568.8 L272.0,568.8 L270.9,568.5 L269.7,567.9 L268.6,567.2 L267.5,566.3 L266.5,565.2 L265.5,564.0 L264.7,562.7 L264.0,561.3 L263.5,559.9 L263.1,558.5 L262.9,557.1 L262.9,555.7 L263.0,554.5 L263.3,553.4 L263.8,552.4 L264.5,551.7 L265.2,551.1 L266.1,550.7 L267.1,550.6 L268.2,550.6 L269.3,550.9 L270.5,551.5 L271.6,552.2 L272.7,553.1 L273.7,554.2 L274.7,555.4Z"/>
<path class="h" style="stroke-width:5.30" d="M262.7,591.9 L263.4,593.3 L263.9,594.7 L264.3,596.1 L264.5,597.5 L264.5,598.9 L264.4,600.1 L264.1,601.2 L263.6,602.2 L262.9,602.9 L262.2,603.5 L261.3,603.9 L260.3,604.0 L259.2,604.0 L258.1,603.7 L256.9,603.1 L255.8,602.4 L254.7,601.5 L253.7,600.4 L252.7,599.2 L251.9,597.9 L251.2,596.5 L250.7,595.1 L250.3,593.7 L250.1,592.3 L250.1,590.9 L250.2,589.7 L250.5,588.6 L251.0,587.6 L251.7,586.9 L252.4,586.3 L253.3,585.9 L254.3,585.8 L255.4,585.8 L256.5,586.1 L257.7,586.7 L258.8,587.4 L259.9,588.3 L260.9,589.4 L261.9,590.6Z"/>
<path class="k" style="stroke-width:3.3" d="M262.7,591.9 L263.4,593.3 L263.9,594.7 L264.3,596.1 L264.5,597.5 L264.5,598.9 L264.4,600.1 L264.1,601.2 L263.6,602.2 L262.9,602.9 L262.2,603.5 L261.3,603.9 L260.3,604.0 L259.2,604.0 L258.1,603.7 L256.9,603.1 L255.8,602.4 L254.7,601.5 L253.7,600.4 L252.7,599.2 L251.9,597.9 L251.2,596.5 L250.7,595.1 L250.3,593.7 L250.1,592.3 L250.1,590.9 L250.2,589.7 L250.5,588.6 L251.0,587.6 L251.7,586.9 L252.4,586.3 L253.3,585.9 L254.3,585.8 L255.4,585.8 L256.5,586.1 L257.7,586.7 L258.8,587.4 L259.9,588.3 L260.9,589.4 L261.9,590.6Z"/>
<path class="h" style="stroke-width:5.30" d="M217.9,589.8 L218.6,591.2 L219.1,592.6 L219.5,594.0 L219.7,595.4 L219.7,596.8 L219.6,598.0 L219.3,599.1 L218.8,600.1 L218.1,600.8 L217.4,601.4 L216.5,601.8 L215.5,601.9 L214.4,601.9 L213.3,601.6 L212.1,601.0 L211.0,600.3 L209.9,599.4 L208.9,598.3 L207.9,597.1 L207.1,595.8 L206.4,594.4 L205.9,593.0 L205.5,591.6 L205.3,590.2 L205.3,588.8 L205.4,587.6 L205.7,586.5 L206.2,585.5 L206.9,584.8 L207.6,584.2 L208.5,583.8 L209.5,583.7 L210.6,583.7 L211.7,584.0 L212.9,584.6 L214.0,585.3 L215.1,586.2 L216.1,587.3 L217.1,588.5Z"/>
<path class="k" style="stroke-width:3.3" d="M217.9,589.8 L218.6,591.2 L219.1,592.6 L219.5,594.0 L219.7,595.4 L219.7,596.8 L219.6,598.0 L219.3,599.1 L218.8,600.1 L218.1,600.8 L217.4,601.4 L216.5,601.8 L215.5,601.9 L214.4,601.9 L213.3,601.6 L212.1,601.0 L211.0,600.3 L209.9,599.4 L208.9,598.3 L207.9,597.1 L207.1,595.8 L206.4,594.4 L205.9,593.0 L205.5,591.6 L205.3,590.2 L205.3,588.8 L205.4,587.6 L205.7,586.5 L206.2,585.5 L206.9,584.8 L207.6,584.2 L208.5,583.8 L209.5,583.7 L210.6,583.7 L211.7,584.0 L212.9,584.6 L214.0,585.3 L215.1,586.2 L216.1,587.3 L217.1,588.5Z"/>
<path class="gf" style="stroke-width:2.8" d="M192.6,489.2 C196,486 199,485.5 203,485.7 C210,486 215,487.5 218,489.2 C224,493 229,499 232,504 C234,507 236,510 236.3,512.1 L226,517.9 L212,525 C212,518 211,512 209,507 C206,501 202,497 199.5,496 C196,495 193,493 192.6,489.2 Z"/>
<path class="h" style="stroke-width:4.80" d="M192.6,489.2 C196,486 199,485.5 203,485.7 C210,486 215,487.5 218,489.2 C224,493 229,499 232,504 C234,507 236,510 236.3,512.1 L226,517.9 L212,525 C212,518 211,512 209,507 C206,501 202,497 199.5,496 C196,495 193,493 192.6,489.2 Z"/>
<path class="k" style="stroke-width:2.8" d="M192.6,489.2 C196,486 199,485.5 203,485.7 C210,486 215,487.5 218,489.2 C224,493 229,499 232,504 C234,507 236,510 236.3,512.1 L226,517.9 L212,525 C212,518 211,512 209,507 C206,501 202,497 199.5,496 C196,495 193,493 192.6,489.2 Z"/>
<path class="gf" style="stroke-width:2.8" d="M192.6,527 C194,532 196,536 199,540 C204,546 212,551 222.5,554.6 C228,556 233,556.5 235.1,555.8 L237.4,552.3 C232,550 226,548 222,545 C217,541 213,537 211,532 L208.7,528.2 C204,527 198,526 192.6,527 Z"/>
<path class="h" style="stroke-width:4.80" d="M192.6,527 C194,532 196,536 199,540 C204,546 212,551 222.5,554.6 C228,556 233,556.5 235.1,555.8 L237.4,552.3 C232,550 226,548 222,545 C217,541 213,537 211,532 L208.7,528.2 C204,527 198,526 192.6,527 Z"/>
<path class="k" style="stroke-width:2.8" d="M192.6,527 C194,532 196,536 199,540 C204,546 212,551 222.5,554.6 C228,556 233,556.5 235.1,555.8 L237.4,552.3 C232,550 226,548 222,545 C217,541 213,537 211,532 L208.7,528.2 C204,527 198,526 192.6,527 Z"/>
<path class="h" style="stroke-width:3.30" d="M196,491 C200,489 210,489 217,492 M196,530 C200,538 210,547 222,551"/>
<path class="k" style="stroke-width:1.3" d="M196,491 C200,489 210,489 217,492 M196,530 C200,538 210,547 222,551"/>
<path class="h" style="stroke-width:4.20" d="M211,526 L234,513.3"/>
<path class="k" style="stroke-width:2.2" d="M211,526 L234,513.3"/>
<path class="h" style="stroke-width:5.00" d="M200.7,510.7 L201.4,512.2 L201.9,513.7 L202.2,515.3 L202.3,516.7 L202.1,518.1 L201.7,519.2 L201.0,520.1 L200.2,520.8 L199.2,521.1 L198.1,521.2 L196.9,521.0 L195.7,520.4 L194.5,519.6 L193.3,518.6 L192.2,517.3 L191.3,515.9 L190.6,514.4 L190.1,512.9 L189.8,511.3 L189.7,509.9 L189.9,508.5 L190.3,507.4 L191.0,506.5 L191.8,505.8 L192.8,505.5 L193.9,505.4 L195.1,505.6 L196.3,506.2 L197.5,507.0 L198.7,508.0 L199.8,509.3Z"/>
<path class="k" style="stroke-width:3" d="M200.7,510.7 L201.4,512.2 L201.9,513.7 L202.2,515.3 L202.3,516.7 L202.1,518.1 L201.7,519.2 L201.0,520.1 L200.2,520.8 L199.2,521.1 L198.1,521.2 L196.9,521.0 L195.7,520.4 L194.5,519.6 L193.3,518.6 L192.2,517.3 L191.3,515.9 L190.6,514.4 L190.1,512.9 L189.8,511.3 L189.7,509.9 L189.9,508.5 L190.3,507.4 L191.0,506.5 L191.8,505.8 L192.8,505.5 L193.9,505.4 L195.1,505.6 L196.3,506.2 L197.5,507.0 L198.7,508.0 L199.8,509.3Z"/>
<path class="h" style="stroke-width:5.00" d="M240.0,531.2 L240.8,532.8 L241.4,534.5 L241.7,536.1 L241.8,537.6 L241.6,539.0 L241.1,540.3 L240.4,541.2 L239.6,541.9 L238.5,542.3 L237.3,542.4 L236.1,542.1 L234.8,541.6 L233.5,540.7 L232.2,539.6 L231.1,538.3 L230.2,536.8 L229.4,535.2 L228.8,533.5 L228.5,531.9 L228.4,530.4 L228.6,529.0 L229.1,527.7 L229.8,526.8 L230.6,526.1 L231.7,525.7 L232.9,525.6 L234.1,525.9 L235.4,526.4 L236.7,527.3 L238.0,528.4 L239.1,529.7Z"/>
<path class="k" style="stroke-width:3" d="M240.0,531.2 L240.8,532.8 L241.4,534.5 L241.7,536.1 L241.8,537.6 L241.6,539.0 L241.1,540.3 L240.4,541.2 L239.6,541.9 L238.5,542.3 L237.3,542.4 L236.1,542.1 L234.8,541.6 L233.5,540.7 L232.2,539.6 L231.1,538.3 L230.2,536.8 L229.4,535.2 L228.8,533.5 L228.5,531.9 L228.4,530.4 L228.6,529.0 L229.1,527.7 L229.8,526.8 L230.6,526.1 L231.7,525.7 L232.9,525.6 L234.1,525.9 L235.4,526.4 L236.7,527.3 L238.0,528.4 L239.1,529.7Z"/>
<path class="r" d="M62.3,487.0 C62.8,489.7 63.9,498.1 65.3,503.0 C66.7,507.9 68.5,511.6 70.7,516.3 C72.9,521.0 76.0,526.5 78.7,531.0 C81.4,535.5 84.0,538.8 86.7,543.0 C89.4,547.2 92.1,552.7 95.1,556.5 C98.1,560.3 100.2,562.1 104.7,566.0 C109.2,569.9 116.2,575.9 122.0,579.9 C127.8,583.9 133.5,587.4 139.3,590.3 C145.1,593.2 151.5,595.2 156.7,597.2 C161.9,599.2 167.3,600.8 170.5,602.4 C173.7,604.0 175.1,606.2 176.0,607.0"/>
<path class="rf" d="M58,470.3 L53,494.8 L62.3,488 L69.8,491 Z"/>
<path class="rf" d="M193.5,615.6 L175.7,600.2 L175,608.5 L169.2,615.3 Z"/>
<path class="r" d="M116.5,477.0 C114.9,479.1 109.5,485.6 106.7,489.7 C104.0,493.8 101.8,497.3 100.0,501.7 C98.2,506.1 96.9,511.6 96.0,516.3 C95.1,521.0 94.9,525.0 94.7,529.7 C94.5,534.4 94.5,539.8 94.7,544.3 C94.9,548.8 95.2,551.4 96.0,556.5 C96.8,561.6 97.8,568.2 99.5,574.7 C101.2,581.2 103.8,588.9 106.4,595.5 C109.0,602.1 112.4,609.0 115.0,614.5 C117.6,620.0 120.2,625.1 122.0,628.4 C123.8,631.6 125.3,633.1 126.0,634.0"/>
<path class="rf" d="M124.5,460 L104.2,475.7 L115.8,477.5 L119,484.2 Z"/>
<path class="rf" d="M136.2,648 L117.2,634 L126,633 L131.9,624.6 Z"/>
<path class="r" d="M484.0,327.0 C480.8,327.8 470.5,329.2 464.5,331.8 C458.5,334.4 453.1,337.7 448.1,342.7 C443.1,347.7 438.4,354.5 434.5,361.8 C430.6,369.1 427.3,377.7 425.0,386.3 C422.7,394.9 421.3,404.9 420.9,413.5 C420.4,422.1 420.9,430.3 422.3,438.0 C423.7,445.7 425.7,453.5 429.1,459.9 C432.5,466.3 436.8,472.3 442.7,476.2 C448.6,480.1 456.8,482.1 464.5,483.0 C472.2,483.9 483.6,482.1 489.0,481.7 C494.4,481.3 495.7,480.7 497.0,480.5"/>
<path class="rf" d="M504.5,321.4 L480,318.3 L483.5,327 L486.5,335.6 Z"/>
<path class="rf" d="M516.8,476.2 L494.3,473 L496.5,481.3 L498.7,491.7 Z"/>
<g class="t" font-size="43" style="opacity:0.995">
<text transform="translate(452.8,294.2) scale(0.84,1)">8</text>
<text transform="translate(472.3,294.2) scale(0.84,1)">0</text>
<text transform="translate(32.8,588) scale(0.9,1)">6</text>
<text transform="translate(54,588) scale(0.9,1)">0</text>
</g>
<path d="M446.3,265.6 L450.2,265.6 L443.9,294.5 L439.9,294.5 L445.2,270.2 C443.5,271.8 441,273 438.6,274.2 L439.3,270.9 C442,269.6 444.6,267.8 446.3,265.6 Z" fill="#111"/>
<ellipse cx="503.9" cy="272.9" rx="5.7" ry="5.1" fill="none" stroke="#111" style="stroke-width:2.5"/>
<ellipse cx="84.7" cy="565.6" rx="5.3" ry="4.7" fill="none" stroke="#111" style="stroke-width:2.4"/>
</svg>
</body></html>
